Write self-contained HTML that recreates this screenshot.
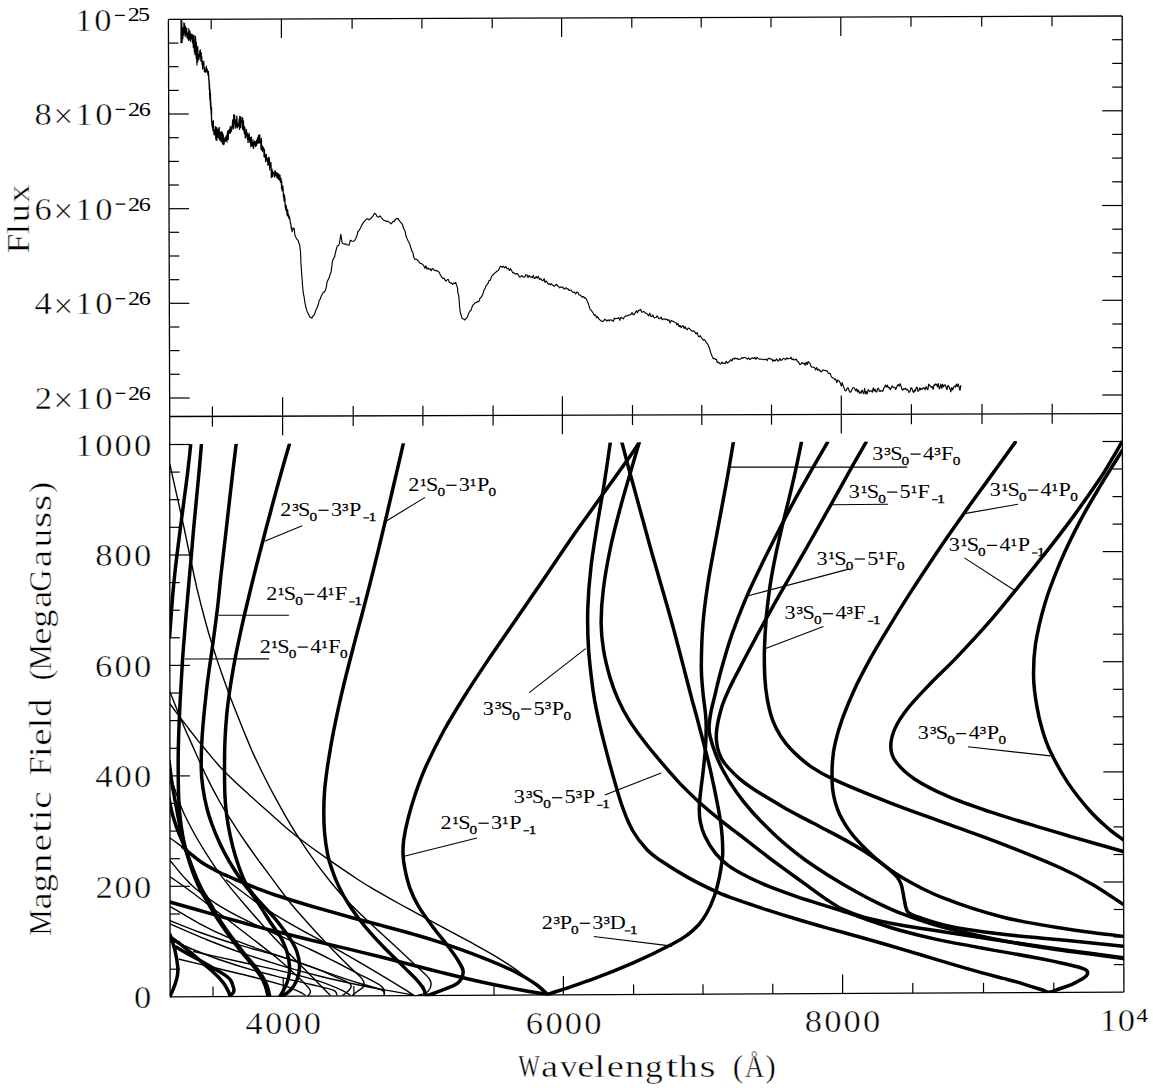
<!DOCTYPE html>
<html><head><meta charset="utf-8"><style>
html,body{margin:0;padding:0;background:#fff;}
svg{display:block;}
text{font-family:"Liberation Serif",serif;fill:#000;} .b{stroke:#fff;stroke-width:0.45px;} .s{stroke:#000;stroke-width:0.3px;}
</style></head><body>
<svg width="1153" height="1091" viewBox="0 0 1153 1091">
<rect width="1153" height="1091" fill="#fff"/>
<line x1="168.4" y1="19.4" x2="1122.2" y2="16.0" stroke="#000" stroke-width="1.3"/>
<line x1="168.4" y1="19.4" x2="169.7" y2="416.5" stroke="#000" stroke-width="1.3"/>
<line x1="1122.2" y1="16.0" x2="1122.3" y2="413.6" stroke="#000" stroke-width="1.3"/>
<line x1="169.7" y1="416.5" x2="1122.3" y2="413.6" stroke="#000" stroke-width="1.3"/>
<line x1="169.7" y1="416.5" x2="170.1" y2="996.8" stroke="#000" stroke-width="1.3"/>
<line x1="170.1" y1="996.8" x2="1123.9" y2="992.1" stroke="#000" stroke-width="1.3"/>
<line x1="1122.3" y1="413.6" x2="1123.9" y2="992.1" stroke="#000" stroke-width="1.3"/>
<line x1="211.2" y1="19.2" x2="211.2" y2="29.2" stroke="#000" stroke-width="1.2"/>
<line x1="212.4" y1="406.4" x2="212.4" y2="426.4" stroke="#000" stroke-width="1.2"/>
<line x1="213.0" y1="996.6" x2="213.0" y2="986.6" stroke="#000" stroke-width="1.2"/>
<line x1="281.4" y1="19.0" x2="281.4" y2="38.0" stroke="#000" stroke-width="1.2"/>
<line x1="282.6" y1="397.2" x2="282.6" y2="435.2" stroke="#000" stroke-width="1.2"/>
<line x1="283.2" y1="996.2" x2="283.2" y2="977.2" stroke="#000" stroke-width="1.2"/>
<line x1="352.1" y1="18.7" x2="352.1" y2="28.7" stroke="#000" stroke-width="1.2"/>
<line x1="353.2" y1="405.9" x2="353.2" y2="425.9" stroke="#000" stroke-width="1.2"/>
<line x1="353.9" y1="995.9" x2="353.9" y2="985.9" stroke="#000" stroke-width="1.2"/>
<line x1="421.9" y1="18.5" x2="421.9" y2="28.5" stroke="#000" stroke-width="1.2"/>
<line x1="422.9" y1="405.7" x2="422.9" y2="425.7" stroke="#000" stroke-width="1.2"/>
<line x1="423.7" y1="995.6" x2="423.7" y2="985.6" stroke="#000" stroke-width="1.2"/>
<line x1="492.2" y1="18.2" x2="492.2" y2="28.2" stroke="#000" stroke-width="1.2"/>
<line x1="493.1" y1="405.5" x2="493.1" y2="425.5" stroke="#000" stroke-width="1.2"/>
<line x1="494.0" y1="995.2" x2="494.0" y2="985.2" stroke="#000" stroke-width="1.2"/>
<line x1="561.6" y1="18.0" x2="561.6" y2="37.0" stroke="#000" stroke-width="1.2"/>
<line x1="562.4" y1="396.3" x2="562.4" y2="434.3" stroke="#000" stroke-width="1.2"/>
<line x1="563.4" y1="994.9" x2="563.4" y2="975.9" stroke="#000" stroke-width="1.2"/>
<line x1="631.8" y1="17.7" x2="631.8" y2="27.7" stroke="#000" stroke-width="1.2"/>
<line x1="632.5" y1="405.1" x2="632.5" y2="425.1" stroke="#000" stroke-width="1.2"/>
<line x1="633.6" y1="994.5" x2="633.6" y2="984.5" stroke="#000" stroke-width="1.2"/>
<line x1="701.2" y1="17.5" x2="701.2" y2="27.5" stroke="#000" stroke-width="1.2"/>
<line x1="701.8" y1="404.9" x2="701.8" y2="424.9" stroke="#000" stroke-width="1.2"/>
<line x1="703.0" y1="994.2" x2="703.0" y2="984.2" stroke="#000" stroke-width="1.2"/>
<line x1="771.0" y1="17.3" x2="771.0" y2="27.3" stroke="#000" stroke-width="1.2"/>
<line x1="771.5" y1="404.7" x2="771.5" y2="424.7" stroke="#000" stroke-width="1.2"/>
<line x1="772.8" y1="993.8" x2="772.8" y2="983.8" stroke="#000" stroke-width="1.2"/>
<line x1="840.8" y1="17.0" x2="840.8" y2="36.0" stroke="#000" stroke-width="1.2"/>
<line x1="841.3" y1="395.5" x2="841.3" y2="433.5" stroke="#000" stroke-width="1.2"/>
<line x1="842.6" y1="993.5" x2="842.6" y2="974.5" stroke="#000" stroke-width="1.2"/>
<line x1="911.0" y1="16.8" x2="911.0" y2="26.8" stroke="#000" stroke-width="1.2"/>
<line x1="911.4" y1="404.2" x2="911.4" y2="424.2" stroke="#000" stroke-width="1.2"/>
<line x1="912.8" y1="993.1" x2="912.8" y2="983.1" stroke="#000" stroke-width="1.2"/>
<line x1="981.7" y1="16.5" x2="981.7" y2="26.5" stroke="#000" stroke-width="1.2"/>
<line x1="982.0" y1="404.0" x2="982.0" y2="424.0" stroke="#000" stroke-width="1.2"/>
<line x1="983.5" y1="992.8" x2="983.5" y2="982.8" stroke="#000" stroke-width="1.2"/>
<line x1="1052.0" y1="16.3" x2="1052.0" y2="26.3" stroke="#000" stroke-width="1.2"/>
<line x1="1052.2" y1="403.8" x2="1052.2" y2="423.8" stroke="#000" stroke-width="1.2"/>
<line x1="1053.8" y1="992.4" x2="1053.8" y2="982.4" stroke="#000" stroke-width="1.2"/>
<line x1="168.5" y1="43.1" x2="178.5" y2="43.1" stroke="#000" stroke-width="1.2"/>
<line x1="1112.2" y1="39.7" x2="1122.2" y2="39.7" stroke="#000" stroke-width="1.2"/>
<line x1="168.6" y1="66.7" x2="178.6" y2="66.7" stroke="#000" stroke-width="1.2"/>
<line x1="1112.2" y1="63.4" x2="1122.2" y2="63.4" stroke="#000" stroke-width="1.2"/>
<line x1="168.6" y1="90.4" x2="178.6" y2="90.4" stroke="#000" stroke-width="1.2"/>
<line x1="1112.2" y1="87.1" x2="1122.2" y2="87.1" stroke="#000" stroke-width="1.2"/>
<line x1="168.7" y1="114.0" x2="188.7" y2="114.0" stroke="#000" stroke-width="1.2"/>
<line x1="1102.2" y1="110.8" x2="1122.2" y2="110.8" stroke="#000" stroke-width="1.2"/>
<line x1="168.8" y1="137.7" x2="178.8" y2="137.7" stroke="#000" stroke-width="1.2"/>
<line x1="1112.2" y1="134.4" x2="1122.2" y2="134.4" stroke="#000" stroke-width="1.2"/>
<line x1="168.9" y1="161.4" x2="178.9" y2="161.4" stroke="#000" stroke-width="1.2"/>
<line x1="1112.2" y1="158.1" x2="1122.2" y2="158.1" stroke="#000" stroke-width="1.2"/>
<line x1="168.9" y1="185.0" x2="178.9" y2="185.0" stroke="#000" stroke-width="1.2"/>
<line x1="1112.2" y1="181.8" x2="1122.2" y2="181.8" stroke="#000" stroke-width="1.2"/>
<line x1="169.0" y1="208.7" x2="189.0" y2="208.7" stroke="#000" stroke-width="1.2"/>
<line x1="1102.2" y1="205.5" x2="1122.2" y2="205.5" stroke="#000" stroke-width="1.2"/>
<line x1="169.1" y1="232.3" x2="179.1" y2="232.3" stroke="#000" stroke-width="1.2"/>
<line x1="1112.3" y1="229.2" x2="1122.3" y2="229.2" stroke="#000" stroke-width="1.2"/>
<line x1="169.2" y1="256.0" x2="179.2" y2="256.0" stroke="#000" stroke-width="1.2"/>
<line x1="1112.3" y1="252.9" x2="1122.3" y2="252.9" stroke="#000" stroke-width="1.2"/>
<line x1="169.3" y1="279.7" x2="179.3" y2="279.7" stroke="#000" stroke-width="1.2"/>
<line x1="1112.3" y1="276.6" x2="1122.3" y2="276.6" stroke="#000" stroke-width="1.2"/>
<line x1="169.3" y1="303.3" x2="189.3" y2="303.3" stroke="#000" stroke-width="1.2"/>
<line x1="1102.3" y1="300.3" x2="1122.3" y2="300.3" stroke="#000" stroke-width="1.2"/>
<line x1="169.4" y1="327.0" x2="179.4" y2="327.0" stroke="#000" stroke-width="1.2"/>
<line x1="1112.3" y1="324.0" x2="1122.3" y2="324.0" stroke="#000" stroke-width="1.2"/>
<line x1="169.5" y1="350.6" x2="179.5" y2="350.6" stroke="#000" stroke-width="1.2"/>
<line x1="1112.3" y1="347.7" x2="1122.3" y2="347.7" stroke="#000" stroke-width="1.2"/>
<line x1="169.6" y1="374.3" x2="179.6" y2="374.3" stroke="#000" stroke-width="1.2"/>
<line x1="1112.3" y1="371.4" x2="1122.3" y2="371.4" stroke="#000" stroke-width="1.2"/>
<line x1="169.6" y1="398.0" x2="189.6" y2="398.0" stroke="#000" stroke-width="1.2"/>
<line x1="1102.3" y1="395.0" x2="1122.3" y2="395.0" stroke="#000" stroke-width="1.2"/>
<line x1="170.1" y1="969.2" x2="180.1" y2="969.2" stroke="#000" stroke-width="1.2"/>
<line x1="1113.8" y1="964.6" x2="1123.8" y2="964.6" stroke="#000" stroke-width="1.2"/>
<line x1="170.1" y1="941.6" x2="180.1" y2="941.6" stroke="#000" stroke-width="1.2"/>
<line x1="1113.7" y1="937.0" x2="1123.7" y2="937.0" stroke="#000" stroke-width="1.2"/>
<line x1="170.0" y1="914.0" x2="180.0" y2="914.0" stroke="#000" stroke-width="1.2"/>
<line x1="1113.7" y1="909.5" x2="1123.7" y2="909.5" stroke="#000" stroke-width="1.2"/>
<line x1="170.0" y1="886.3" x2="190.0" y2="886.3" stroke="#000" stroke-width="1.2"/>
<line x1="1103.6" y1="882.0" x2="1123.6" y2="882.0" stroke="#000" stroke-width="1.2"/>
<line x1="170.0" y1="858.7" x2="180.0" y2="858.7" stroke="#000" stroke-width="1.2"/>
<line x1="1113.5" y1="854.5" x2="1123.5" y2="854.5" stroke="#000" stroke-width="1.2"/>
<line x1="170.0" y1="831.1" x2="180.0" y2="831.1" stroke="#000" stroke-width="1.2"/>
<line x1="1113.4" y1="826.9" x2="1123.4" y2="826.9" stroke="#000" stroke-width="1.2"/>
<line x1="170.0" y1="803.5" x2="180.0" y2="803.5" stroke="#000" stroke-width="1.2"/>
<line x1="1113.4" y1="799.4" x2="1123.4" y2="799.4" stroke="#000" stroke-width="1.2"/>
<line x1="169.9" y1="775.9" x2="189.9" y2="775.9" stroke="#000" stroke-width="1.2"/>
<line x1="1103.3" y1="771.9" x2="1123.3" y2="771.9" stroke="#000" stroke-width="1.2"/>
<line x1="169.9" y1="748.3" x2="179.9" y2="748.3" stroke="#000" stroke-width="1.2"/>
<line x1="1113.2" y1="744.3" x2="1123.2" y2="744.3" stroke="#000" stroke-width="1.2"/>
<line x1="169.9" y1="720.6" x2="179.9" y2="720.6" stroke="#000" stroke-width="1.2"/>
<line x1="1113.1" y1="716.8" x2="1123.1" y2="716.8" stroke="#000" stroke-width="1.2"/>
<line x1="169.9" y1="693.0" x2="179.9" y2="693.0" stroke="#000" stroke-width="1.2"/>
<line x1="1113.1" y1="689.3" x2="1123.1" y2="689.3" stroke="#000" stroke-width="1.2"/>
<line x1="169.9" y1="665.4" x2="189.9" y2="665.4" stroke="#000" stroke-width="1.2"/>
<line x1="1103.0" y1="661.7" x2="1123.0" y2="661.7" stroke="#000" stroke-width="1.2"/>
<line x1="169.9" y1="637.8" x2="179.9" y2="637.8" stroke="#000" stroke-width="1.2"/>
<line x1="1112.9" y1="634.2" x2="1122.9" y2="634.2" stroke="#000" stroke-width="1.2"/>
<line x1="169.8" y1="610.2" x2="179.8" y2="610.2" stroke="#000" stroke-width="1.2"/>
<line x1="1112.8" y1="606.7" x2="1122.8" y2="606.7" stroke="#000" stroke-width="1.2"/>
<line x1="169.8" y1="582.6" x2="179.8" y2="582.6" stroke="#000" stroke-width="1.2"/>
<line x1="1112.8" y1="579.1" x2="1122.8" y2="579.1" stroke="#000" stroke-width="1.2"/>
<line x1="169.8" y1="555.0" x2="189.8" y2="555.0" stroke="#000" stroke-width="1.2"/>
<line x1="1102.7" y1="551.6" x2="1122.7" y2="551.6" stroke="#000" stroke-width="1.2"/>
<line x1="169.8" y1="527.3" x2="179.8" y2="527.3" stroke="#000" stroke-width="1.2"/>
<line x1="1112.6" y1="524.1" x2="1122.6" y2="524.1" stroke="#000" stroke-width="1.2"/>
<line x1="169.8" y1="499.7" x2="179.8" y2="499.7" stroke="#000" stroke-width="1.2"/>
<line x1="1112.5" y1="496.6" x2="1122.5" y2="496.6" stroke="#000" stroke-width="1.2"/>
<line x1="169.7" y1="472.1" x2="179.7" y2="472.1" stroke="#000" stroke-width="1.2"/>
<line x1="1112.5" y1="469.0" x2="1122.5" y2="469.0" stroke="#000" stroke-width="1.2"/>
<line x1="169.7" y1="444.5" x2="189.7" y2="444.5" stroke="#000" stroke-width="1.2"/>
<line x1="1102.4" y1="441.5" x2="1122.4" y2="441.5" stroke="#000" stroke-width="1.2"/>
<defs><clipPath id="cp"><polygon points="169.9,444.2 1122.3,440.5 1123.9,992.6 170.1,997.4"/></clipPath></defs>
<g fill="none" stroke="#000" stroke-linejoin="round" stroke-linecap="round" clip-path="url(#cp)">
<path d="M170.0,838.0 C171.1,838.8 174.3,841.1 176.5,842.6 C178.6,844.2 181.8,846.4 182.9,847.2" stroke-width="1.4"/>
<path d="M169.8,464.0 C170.3,466.1 171.5,471.6 172.6,476.6 C173.7,481.7 175.3,488.7 176.6,494.3 C177.9,500.0 179.0,504.8 180.2,510.4 C181.5,516.0 182.5,520.7 184.1,528.0 C185.6,535.3 188.3,547.9 189.6,554.5 C191.0,561.0 191.4,562.7 192.4,567.5 C193.4,572.4 195.0,579.9 195.9,583.7 C196.7,587.4 196.3,585.8 197.3,590.0 C198.4,594.2 200.2,602.0 202.1,609.0 C203.9,616.0 206.6,625.8 208.4,632.2 C210.3,638.6 211.6,642.7 213.0,647.3 C214.5,651.9 215.6,655.3 217.1,659.9 C218.6,664.5 220.5,669.9 222.3,675.1 C224.1,680.2 226.5,686.8 227.9,690.7 C229.3,694.6 229.5,695.1 230.8,698.6 C232.2,702.0 233.6,705.9 235.9,711.5 C238.1,717.1 241.6,725.8 244.2,732.2 C246.8,738.6 249.9,745.9 251.6,750.0 C253.3,754.0 252.6,752.4 254.5,756.4 C256.4,760.4 259.9,767.7 263.1,774.2 C266.3,780.6 269.8,787.5 273.8,794.9 C277.8,802.3 282.7,811.3 287.1,818.8 C291.5,826.2 295.5,832.8 300.1,839.8 C304.7,846.9 309.9,854.5 314.7,861.1 C319.5,867.8 324.7,874.4 328.9,879.7 C333.1,885.0 336.2,888.7 340.0,893.0 C343.8,897.2 346.1,899.9 351.5,905.3 C356.9,910.7 365.1,918.5 372.6,925.4 C380.0,932.3 389.0,940.2 396.1,946.9 C403.2,953.5 409.6,959.6 415.3,965.1 C421.0,970.7 428.1,976.0 430.2,980.4 C432.3,984.8 430.2,988.9 428.0,991.4 C425.8,993.9 418.8,994.9 417.0,995.6" stroke-width="1.4"/>
<path d="M170.0,692.0 C170.7,693.8 172.8,699.0 174.4,703.0 C176.0,707.0 177.9,711.8 179.6,716.0 C181.3,720.1 182.9,724.0 184.6,728.0 C186.3,731.9 188.0,735.8 189.7,739.4 C191.3,743.1 192.8,746.5 194.4,750.0 C196.0,753.6 197.4,756.7 199.2,760.7 C201.0,764.7 203.2,769.6 205.4,774.2 C207.6,778.7 209.7,783.1 212.2,787.9 C214.7,792.7 218.2,799.0 220.4,803.0 C222.6,806.9 222.8,807.1 225.5,811.5 C228.3,815.8 233.1,823.4 236.8,829.1 C240.5,834.8 244.2,840.2 247.9,845.5 C251.6,850.8 255.3,855.9 258.8,860.8 C262.4,865.6 266.2,870.7 269.3,874.9 C272.4,879.0 274.3,881.7 277.4,885.9 C280.5,890.0 284.2,895.0 287.9,899.8 C291.7,904.5 293.9,907.5 300.0,914.3 C306.0,921.2 316.2,932.4 324.3,940.9 C332.4,949.5 341.9,959.1 348.3,965.5 C354.6,971.9 359.8,975.8 362.4,979.3 C365.0,982.8 364.4,984.6 363.6,986.6 C362.8,988.6 359.4,989.9 357.6,991.3 C355.7,992.8 353.5,994.5 352.7,995.1" stroke-width="1.4"/>
<path d="M170.0,704.0 C171.5,706.0 176.0,712.0 179.2,716.2 C182.3,720.4 185.7,724.8 188.9,729.0 C192.1,733.1 195.5,737.4 198.4,741.1 C201.4,744.7 203.5,747.3 206.4,750.8 C209.3,754.3 212.7,758.5 215.8,762.0 C218.9,765.6 221.5,768.5 225.0,772.1 C228.5,775.7 232.7,779.7 236.9,783.6 C241.0,787.5 244.7,790.7 249.9,795.4 C255.1,800.1 262.0,806.3 268.0,811.6 C273.9,817.0 280.2,822.7 285.6,827.3 C291.1,831.8 293.4,833.9 300.4,839.2 C307.4,844.5 318.0,852.2 327.6,858.9 C337.2,865.6 350.4,874.5 357.9,879.5 C365.4,884.4 365.6,884.5 372.6,888.6 C379.6,892.6 390.5,898.8 399.7,904.0 C409.0,909.1 416.3,913.1 427.9,919.3 C439.4,925.6 456.9,934.8 469.0,941.4 C481.1,948.1 491.5,953.7 500.4,959.3 C509.4,964.8 515.3,968.9 522.8,974.7 C530.4,980.5 542.1,990.8 546.0,994.0" stroke-width="1.4"/>
<path d="M169.6,772.0 C170.5,775.0 173.0,783.9 175.0,789.7 C176.9,795.5 179.1,801.8 181.2,806.9 C183.3,812.1 185.1,816.0 187.5,820.8 C189.9,825.7 192.6,830.7 195.6,836.0 C198.6,841.2 202.0,846.9 205.5,852.3 C208.9,857.8 213.5,864.7 216.3,868.9 C219.2,873.1 220.0,874.2 222.6,877.6 C225.2,881.0 228.1,884.8 231.8,889.4 C235.5,893.9 239.9,899.1 245.0,905.0 C250.0,910.9 256.4,918.2 262.3,924.7 C268.2,931.3 274.2,937.8 280.6,944.5 C286.9,951.1 294.0,958.5 300.2,964.8 C306.4,971.1 312.7,977.3 317.6,982.4 C322.6,987.4 327.9,992.9 330.0,995.0" stroke-width="1.4"/>
<path d="M170.0,906.4 C174.9,909.3 189.9,918.5 199.5,923.6 C209.0,928.8 217.3,932.9 227.5,937.2 C237.7,941.6 249.3,945.7 260.4,949.7 C271.5,953.6 285.7,957.9 294.2,960.7 C302.6,963.6 304.4,964.0 311.1,966.7 C317.9,969.3 328.4,973.7 334.9,976.6 C341.4,979.5 347.9,981.8 350.3,984.1 C352.7,986.4 350.3,988.4 349.1,990.2 C347.9,992.0 344.0,994.3 343.0,995.1" stroke-width="1.4"/>
<path d="M170.0,920.7 C174.8,922.6 189.2,928.5 198.7,932.0 C208.2,935.4 218.3,938.8 226.9,941.5 C235.6,944.2 242.8,946.0 250.8,948.3 C258.8,950.5 267.5,952.8 274.7,954.9 C282.0,957.0 287.9,958.9 294.0,961.0 C300.2,963.1 304.7,964.8 311.7,967.2 C318.7,969.7 327.7,972.9 335.8,975.6 C343.9,978.4 352.5,981.1 360.2,983.5 C367.8,985.9 377.8,988.1 381.8,990.0 C385.8,991.9 383.9,994.2 384.3,995.1" stroke-width="1.4"/>
<path d="M170.0,924.0 C176.2,926.7 195.4,935.1 207.5,940.0 C219.6,944.8 229.6,948.7 242.5,953.2 C255.5,957.7 272.4,963.0 285.3,966.8 C298.3,970.6 307.7,973.1 320.2,976.2 C332.7,979.3 349.5,983.0 360.1,985.3 C370.8,987.6 376.1,988.5 384.2,989.9 C392.2,991.4 403.5,993.2 408.4,994.1 C413.2,994.9 412.6,994.9 413.4,995.1" stroke-width="1.4"/>
<path d="M174.9,941.6 C177.9,942.9 185.3,946.4 192.9,949.5 C200.5,952.5 210.4,956.5 220.5,960.0 C230.6,963.5 242.8,967.3 253.5,970.4 C264.3,973.4 275.5,976.0 285.1,978.4 C294.7,980.7 303.0,982.5 311.0,984.5 C319.0,986.5 329.0,988.4 333.3,990.2 C337.6,992.0 336.3,994.3 336.9,995.1" stroke-width="1.4"/>
<path d="M193.6,951.5 C198.0,952.5 210.0,955.2 219.9,957.4 C229.8,959.6 242.4,962.4 253.2,964.8 C264.0,967.2 273.9,969.2 284.9,971.9 C295.8,974.7 309.3,978.1 319.0,981.2 C328.7,984.4 337.9,988.5 343.1,990.8 C348.2,993.1 348.8,994.3 350.0,995.0" stroke-width="1.4"/>
<path d="M179.3,959.2 C185.2,960.6 202.3,964.7 214.6,967.7 C226.9,970.6 241.3,974.0 253.0,977.0 C264.6,980.0 276.6,983.3 284.2,985.7 C291.9,988.1 295.6,990.0 299.0,991.6 C302.5,993.1 304.0,994.4 305.0,995.0" stroke-width="1.4"/>
<path d="M170.1,860.5 C172.4,863.2 179.5,872.2 183.7,876.9 C188.0,881.6 190.3,884.4 195.7,888.8 C201.0,893.3 208.4,898.8 215.9,903.6 C223.3,908.4 231.1,912.7 240.3,917.4 C249.5,922.2 262.3,928.0 271.1,932.0 C280.0,936.1 286.7,938.7 293.4,941.7 C300.1,944.7 304.4,946.6 311.5,950.0 C318.6,953.3 327.8,958.0 335.8,962.0 C343.8,966.1 351.7,970.3 359.4,974.3 C367.1,978.4 377.6,983.1 381.8,986.6 C386.0,990.1 383.9,993.7 384.3,995.1" stroke-width="1.4"/>
<path d="M170.1,876.7 C172.5,878.4 179.7,883.4 184.8,887.0 C189.8,890.7 193.4,893.3 200.5,898.7 C207.5,904.1 218.3,912.5 227.2,919.3 C236.0,926.1 244.8,932.8 253.4,939.5 C262.0,946.2 271.4,953.3 278.8,959.5 C286.2,965.8 292.7,971.8 297.9,976.9 C303.1,982.0 308.3,986.8 310.0,990.0 C311.7,993.2 308.3,995.0 308.0,996.0" stroke-width="1.4"/>
<path d="M226.6,880.0 C231.2,883.4 245.9,894.7 254.0,900.6 C262.2,906.4 268.0,910.3 275.7,915.1 C283.5,919.9 291.3,924.3 300.3,929.4 C309.3,934.4 320.0,940.0 329.8,945.4 C339.5,950.8 349.6,956.5 358.8,961.8 C368.1,967.2 377.2,972.7 385.3,977.6 C393.5,982.5 403.1,988.5 407.8,991.4 C412.5,994.3 412.5,994.5 413.4,995.1" stroke-width="1.4"/>
<path d="M190.7,444.4 C190.3,448.5 189.1,460.2 188.0,469.2 C187.0,478.3 185.5,488.9 184.2,498.7 C183.0,508.5 181.5,519.4 180.4,528.0 C179.3,536.5 178.5,542.7 177.6,550.0 C176.7,557.3 175.7,565.0 175.0,572.0 C174.2,579.0 173.6,585.4 173.0,592.0 C172.4,598.7 172.0,604.5 171.4,612.0 C170.8,619.5 169.9,632.8 169.6,637.0" stroke-width="3.5"/>
<path d="M201.4,444.4 C201.1,448.5 200.1,460.2 199.3,469.3 C198.5,478.3 197.4,488.9 196.5,498.7 C195.6,508.5 194.6,518.2 193.7,528.0 C192.8,537.8 192.0,547.8 191.2,557.3 C190.3,566.8 189.6,574.7 188.7,585.0 C187.8,595.3 186.7,607.5 185.7,619.3 C184.7,631.2 183.7,643.7 182.8,656.0 C182.0,668.3 181.2,681.3 180.6,693.0 C179.9,704.7 179.4,716.5 179.0,726.0 C178.6,735.5 178.5,743.1 178.3,750.0 C178.2,756.9 178.1,760.0 178.2,767.5 C178.2,775.0 178.3,787.0 178.6,795.0 C178.9,803.0 179.2,808.7 179.9,815.5 C180.6,822.4 181.8,830.4 182.8,836.1 C183.8,841.8 184.7,845.3 185.9,849.9 C187.1,854.5 188.4,859.0 189.9,863.6 C191.4,868.2 193.1,873.1 194.8,877.4 C196.5,881.7 198.5,886.3 200.2,889.6 C201.8,892.9 203.3,894.7 204.7,897.2 C206.2,899.6 207.2,901.3 208.9,904.3 C210.6,907.2 212.7,911.3 215.0,914.9 C217.2,918.6 219.6,922.2 222.3,926.1 C225.0,930.0 228.1,934.3 231.0,938.3 C234.0,942.3 237.3,946.7 240.1,950.2 C242.8,953.7 245.0,956.2 247.5,959.2 C250.0,962.2 252.7,965.2 255.0,968.2 C257.2,971.2 259.5,974.2 261.2,977.1 C263.0,980.1 264.2,982.8 265.3,985.9 C266.4,988.9 267.4,993.9 267.8,995.5" stroke-width="3.5"/>
<path d="M169.1,761.3 C169.5,764.2 170.6,773.3 171.3,778.5 C172.1,783.6 172.7,787.8 173.5,792.1 C174.2,796.5 175.1,800.5 175.8,804.6 C176.6,808.8 177.4,813.1 178.1,817.0 C178.9,820.9 179.4,823.9 180.2,828.0 C181.1,832.1 182.3,837.6 183.4,841.6 C184.4,845.6 185.3,848.1 186.6,852.0 C187.9,855.9 189.5,860.5 191.2,864.9 C192.9,869.3 194.9,874.3 196.7,878.4 C198.5,882.6 200.4,886.5 202.1,889.7 C203.8,892.9 205.3,895.1 206.8,897.6 C208.3,900.1 209.2,901.6 210.9,904.6 C212.6,907.5 214.7,911.6 216.9,915.3 C219.1,918.9 221.5,922.6 224.1,926.4 C226.7,930.3 229.7,934.4 232.6,938.4 C235.5,942.4 238.9,946.9 241.7,950.4 C244.4,953.9 246.6,956.4 249.1,959.4 C251.6,962.4 254.2,965.2 256.5,968.2 C258.8,971.2 261.2,974.4 263.0,977.3 C264.7,980.3 266.0,982.9 267.1,985.9 C268.2,988.9 269.2,993.7 269.6,995.3" stroke-width="3.5"/>
<path d="M169.1,798.4 C169.5,800.6 170.7,807.4 171.7,811.4 C172.7,815.4 173.7,818.7 174.9,822.4 C176.1,826.1 177.5,829.7 178.9,833.4 C180.4,837.1 182.3,841.4 183.6,844.5 C184.9,847.6 185.4,848.9 186.6,852.1 C187.8,855.4 189.3,859.8 190.8,863.9 C192.3,868.0 194.1,872.9 195.7,876.9 C197.2,881.0 199.4,886.2 200.2,888.0" stroke-width="3.5"/>
<path d="M236.1,444.4 C235.6,448.5 234.2,460.2 233.1,469.3 C232.1,478.3 230.8,488.9 229.7,498.7 C228.6,508.5 227.5,518.2 226.4,528.0 C225.3,537.7 224.0,548.6 223.0,557.3 C222.0,566.0 221.2,572.9 220.4,580.0 C219.7,587.1 219.0,594.7 218.4,600.0 C217.8,605.3 217.9,605.1 217.0,612.0 C216.2,618.9 214.5,631.5 213.2,641.3 C211.9,651.1 210.2,662.1 209.0,670.7 C207.9,679.3 207.3,682.0 206.2,693.1 C205.0,704.1 202.9,724.7 202.1,737.1 C201.3,749.5 201.1,759.0 201.2,767.5 C201.3,776.0 201.9,781.2 202.9,788.0 C203.8,794.8 205.4,802.3 207.0,808.5 C208.5,814.7 210.2,819.5 212.2,825.0 C214.2,830.5 216.7,836.5 219.0,841.5 C221.2,846.6 223.4,850.7 225.9,855.3 C228.3,859.9 231.2,864.7 233.9,869.0 C236.7,873.4 240.0,878.2 242.2,881.4 C244.5,884.7 245.8,886.2 247.6,888.5 C249.3,890.8 250.6,892.2 252.7,895.2 C254.9,898.2 257.6,902.2 260.4,906.6 C263.3,911.0 267.1,917.3 269.9,921.5 C272.7,925.8 275.2,929.1 277.1,931.9 C279.0,934.7 279.7,935.0 281.4,938.5 C283.1,942.0 285.9,948.2 287.2,952.9 C288.6,957.7 289.4,962.8 289.6,967.1 C289.7,971.5 289.2,975.3 288.3,978.9 C287.4,982.5 285.7,985.9 284.3,988.8 C282.9,991.7 280.6,995.0 279.9,996.3" stroke-width="3.5"/>
<path d="M289.3,444.4 C288.3,447.8 285.5,457.4 283.4,465.0 C281.3,472.6 278.7,481.7 276.4,490.0 C274.2,498.3 271.9,506.7 269.7,515.0 C267.4,523.4 265.2,531.7 263.1,540.0 C260.9,548.3 258.8,556.7 256.6,565.0 C254.5,573.3 252.4,581.7 250.4,590.0 C248.4,598.4 246.4,606.7 244.4,615.0 C242.5,623.4 240.6,631.7 238.9,640.0 C237.1,648.4 235.4,656.7 233.9,665.1 C232.4,673.4 231.0,681.7 229.8,690.1 C228.6,698.4 227.5,706.7 226.7,715.0 C225.9,723.4 225.4,731.3 225.0,740.0 C224.6,748.8 224.5,758.3 224.5,767.5 C224.5,776.7 224.6,787.0 224.9,795.0 C225.3,803.0 225.8,808.7 226.7,815.5 C227.6,822.4 228.8,829.2 230.3,836.1 C231.7,842.9 233.5,849.8 235.6,856.7 C237.7,863.5 240.6,871.8 242.8,877.1 C245.0,882.4 246.6,885.0 248.8,888.5 C251.0,891.9 253.2,894.5 256.1,897.9 C259.0,901.3 263.1,905.5 266.2,908.8 C269.2,912.2 271.5,914.5 274.4,917.9 C277.3,921.3 280.7,925.7 283.5,929.5 C286.4,933.3 289.2,937.0 291.4,940.8 C293.6,944.5 295.6,947.8 296.9,951.8 C298.3,955.8 299.3,960.7 299.5,964.8 C299.7,968.9 299.1,972.9 298.1,976.4 C297.1,980.0 295.4,983.4 293.6,986.1 C291.9,988.8 289.7,991.0 287.6,992.7 C285.5,994.4 282.2,995.7 281.1,996.3" stroke-width="3.5"/>
<path d="M403.3,443.7 C401.7,450.6 396.9,471.3 393.7,485.0 C390.5,498.7 387.3,512.5 384.1,526.2 C380.8,539.9 377.5,553.7 374.1,567.4 C370.7,581.2 367.1,594.9 363.5,608.7 C359.9,622.5 356.1,636.2 352.6,650.0 C349.0,663.8 345.3,678.0 342.2,691.4 C339.0,704.7 335.8,720.2 333.8,730.1 C331.8,739.9 331.2,743.7 330.1,750.6 C328.9,757.5 327.8,764.4 326.8,771.3 C325.9,778.2 325.0,785.1 324.5,792.0 C324.0,798.8 323.8,805.6 323.8,812.5 C323.8,819.4 324.0,826.3 324.6,833.1 C325.2,840.0 326.4,847.8 327.5,853.6 C328.6,859.4 329.4,862.2 331.4,867.9 C333.3,873.5 336.4,881.7 339.3,887.6 C342.1,893.6 344.8,898.2 348.4,903.7 C351.9,909.2 356.4,915.4 360.4,920.7 C364.4,925.9 368.5,930.7 372.5,935.2 C376.5,939.7 380.3,943.6 384.3,947.7 C388.3,951.8 392.5,955.9 396.5,959.7 C400.4,963.6 404.4,967.5 407.9,971.1 C411.5,974.6 415.2,978.2 417.8,981.2 C420.4,984.1 422.0,986.3 423.4,988.7 C424.8,991.1 425.7,994.4 426.1,995.6" stroke-width="3.5"/>
<path d="M639.2,442.4 C637.3,445.3 634.5,450.0 627.6,459.8 C620.7,469.6 607.1,488.3 597.8,501.3 C588.5,514.4 581.7,523.3 571.6,537.9 C561.4,552.6 547.1,574.1 536.9,589.1 C526.6,604.1 518.7,615.6 510.1,628.1 C501.5,640.5 493.2,652.4 485.5,663.9 C477.8,675.4 470.8,686.1 463.8,697.2 C456.9,708.3 450.2,719.1 443.9,730.5 C437.7,741.9 431.1,755.1 426.3,765.6 C421.6,776.1 418.6,784.5 415.5,793.5 C412.4,802.5 409.7,811.8 407.8,819.6 C405.8,827.4 404.5,834.4 403.7,840.1 C403.0,845.8 402.9,849.1 403.0,853.8 C403.2,858.4 403.5,862.2 404.7,867.9 C405.8,873.6 407.6,881.5 409.8,887.8 C412.1,894.0 414.0,898.7 418.0,905.3 C421.9,912.0 428.3,920.8 433.5,927.8 C438.7,934.9 445.0,942.0 449.2,947.7 C453.5,953.4 456.6,957.9 459.0,962.0 C461.3,966.1 463.4,968.7 463.2,972.2 C463.0,975.7 461.4,980.1 457.7,983.2 C454.0,986.3 446.0,988.6 440.9,990.7 C435.9,992.8 429.7,994.8 427.5,995.6" stroke-width="3.5"/>
<path d="M733.5,441.6 C732.2,448.9 729.0,468.8 725.9,485.4 C722.9,502.0 718.4,524.8 715.5,541.0 C712.5,557.3 710.1,568.9 708.0,582.8 C705.9,596.7 704.0,610.6 702.9,624.4 C701.8,638.3 701.4,655.0 701.3,665.9 C701.3,676.8 702.0,682.2 702.7,689.9 C703.3,697.6 704.7,705.9 705.3,712.1 C705.9,718.2 706.2,720.6 706.2,726.7 C706.2,732.8 705.9,741.3 705.4,748.7 C704.9,756.0 704.0,763.3 703.2,770.7 C702.4,778.0 701.2,786.6 700.5,792.7 C699.9,798.8 699.3,802.5 699.3,807.3 C699.2,812.2 699.4,817.0 700.3,821.8 C701.2,826.6 702.3,830.8 704.8,836.0 C707.3,841.3 711.6,848.5 715.5,853.4 C719.4,858.3 722.9,861.4 728.1,865.3 C733.3,869.1 739.9,872.8 746.7,876.3 C753.5,879.9 760.3,882.9 768.8,886.4 C777.4,889.8 788.4,893.7 798.1,897.1 C807.9,900.4 819.2,903.7 827.4,906.3 C835.7,908.9 840.2,910.3 847.5,912.7 C854.9,915.1 862.6,918.1 871.3,921.0 C880.0,923.9 888.9,927.2 899.7,930.3 C910.6,933.3 924.2,936.7 936.4,939.4 C948.6,942.1 963.6,944.6 973.1,946.4 C982.5,948.2 981.5,948.0 993.0,950.1 C1004.6,952.1 1028.7,956.3 1042.4,959.0 C1056.1,961.7 1067.8,964.4 1075.1,966.3 C1082.4,968.1 1084.2,968.6 1086.2,970.1 C1088.2,971.6 1087.8,973.5 1087.0,975.0 C1086.2,976.5 1084.1,977.7 1081.6,979.3 C1079.1,980.8 1075.7,982.7 1072.0,984.3 C1068.2,985.9 1062.8,987.7 1059.0,989.0 C1055.2,990.4 1051.9,992.1 1049.1,992.3 C1046.3,992.5 1047.7,991.7 1042.5,990.0 C1037.2,988.3 1024.1,984.2 1017.5,982.2 C1011.0,980.3 1009.2,980.0 1003.1,978.4 C996.9,976.7 989.2,974.8 980.5,972.4 C971.8,970.0 960.8,966.8 951.0,963.9 C941.2,961.0 931.3,958.0 921.5,955.0 C911.7,952.1 901.8,949.1 892.0,946.2 C882.1,943.3 873.1,940.7 862.4,937.7 C851.6,934.7 838.2,931.1 827.5,928.1 C816.8,925.1 807.8,922.5 798.0,919.5 C788.2,916.6 778.5,913.6 768.6,910.4 C758.8,907.2 747.6,903.5 739.0,900.4 C730.5,897.4 725.8,895.9 717.3,892.1 C708.9,888.3 697.7,882.9 688.2,877.6 C678.6,872.3 667.1,865.0 660.1,860.3 C653.2,855.6 651.1,854.2 646.6,849.3 C642.1,844.4 636.7,837.6 632.9,831.0 C629.0,824.4 626.4,817.8 623.4,809.7 C620.4,801.7 618.1,793.8 614.9,782.4 C611.6,771.0 606.6,752.4 603.7,741.1 C600.8,729.9 599.2,723.2 597.5,714.9 C595.7,706.6 594.6,701.9 593.1,691.1 C591.7,680.3 589.5,663.6 588.6,649.9 C587.7,636.2 587.4,622.5 587.8,608.7 C588.2,595.0 589.3,581.4 590.9,567.6 C592.4,553.9 594.8,540.1 597.0,526.3 C599.2,512.5 601.8,498.9 604.0,484.9 C606.2,470.9 609.3,449.5 610.3,442.4" stroke-width="3.5"/>
<path d="M639.2,442.4 C637.8,447.2 634.0,460.4 630.8,471.2 C627.7,481.9 623.9,494.3 620.5,507.1 C617.1,520.0 613.1,534.7 610.3,548.5 C607.4,562.2 604.8,577.3 603.3,589.6 C601.7,602.0 601.1,612.5 601.1,622.5 C601.2,632.5 602.0,640.6 603.5,649.8 C605.0,658.9 607.5,668.9 609.9,677.2 C612.4,685.5 614.9,692.3 618.2,699.6 C621.4,706.9 624.7,713.3 629.7,721.1 C634.6,728.9 641.4,737.8 648.0,746.3 C654.6,754.7 663.9,765.3 669.3,771.6 C674.7,777.9 675.5,778.9 680.5,784.1 C685.6,789.2 692.9,796.5 699.5,802.5 C706.1,808.4 713.6,814.7 720.1,819.9 C726.6,825.2 731.9,829.0 738.5,834.0 C745.0,839.0 754.1,846.2 759.2,850.1 C764.2,854.0 764.7,854.4 768.7,857.5 C772.7,860.5 777.0,863.6 783.1,868.1 C789.2,872.5 797.9,878.9 805.3,884.2 C812.7,889.6 821.3,896.0 827.6,900.2 C833.9,904.4 837.1,906.6 842.9,909.4 C848.8,912.1 854.7,914.5 862.9,916.9 C871.0,919.2 882.3,921.6 892.1,923.5 C901.9,925.4 911.7,926.9 921.5,928.4 C931.3,930.0 937.4,930.9 951.0,933.0 C964.6,935.0 987.8,938.6 1003.0,940.9 C1018.3,943.2 1027.7,944.7 1042.5,946.8 C1057.4,948.9 1078.5,951.7 1092.0,953.6 C1105.5,955.4 1118.1,957.0 1123.3,957.7" stroke-width="3.5"/>
<path d="M622.0,442.8 C623.1,446.9 625.9,457.8 628.5,467.5 C631.1,477.1 634.2,488.4 637.5,500.5 C640.8,512.6 645.4,529.5 648.3,540.0 C651.2,550.4 652.6,555.6 654.8,563.1 C656.9,570.6 659.0,577.6 661.1,584.9 C663.2,592.2 665.3,599.3 667.4,606.8 C669.5,614.3 671.9,622.9 673.8,629.9 C675.7,637.0 676.7,640.8 678.9,649.1 C681.1,657.5 684.7,671.5 686.9,680.0 C689.1,688.5 690.4,693.4 692.1,700.0 C693.9,706.5 695.4,711.7 697.4,719.4 C699.4,727.0 702.4,738.3 704.3,745.7 C706.3,753.0 707.3,756.8 708.8,763.4 C710.4,770.0 712.1,778.0 713.7,785.3 C715.2,792.6 716.9,801.2 718.1,807.3 C719.2,813.4 719.9,817.2 720.6,822.1 C721.3,827.0 721.8,832.0 722.2,836.6 C722.5,841.3 722.7,846.2 722.7,850.0 C722.7,853.8 722.9,854.5 722.3,859.1 C721.7,863.8 720.5,872.1 719.2,878.2 C717.9,884.3 716.5,889.9 714.5,895.7 C712.4,901.5 709.6,908.1 706.8,913.0 C704.1,918.0 701.4,921.6 698.2,925.3 C694.9,928.9 691.7,931.8 687.3,935.0 C682.9,938.2 681.0,939.6 672.0,944.2 C662.9,948.9 646.5,957.0 633.2,962.9 C619.9,968.7 606.2,974.2 592.1,979.4 C578.0,984.6 555.8,991.7 548.5,994.2" stroke-width="3.5"/>
<path d="M801.4,442.4 C800.4,447.2 797.5,461.7 795.4,471.1 C793.4,480.5 790.9,490.4 789.0,498.7 C787.0,507.0 785.7,511.5 783.5,520.7 C781.4,529.9 778.1,543.3 775.9,553.8 C773.7,564.4 771.9,573.6 770.3,584.1 C768.8,594.6 767.3,606.1 766.3,617.1 C765.4,628.1 764.7,640.0 764.4,650.0 C764.2,660.1 764.4,669.1 764.8,677.4 C765.3,685.8 766.1,692.7 767.4,699.9 C768.7,707.0 770.4,714.1 772.6,720.2 C774.8,726.2 777.4,731.1 780.7,736.2 C784.0,741.3 787.5,745.8 792.4,750.8 C797.3,755.8 803.3,761.3 810.2,766.1 C817.1,770.8 820.4,773.3 833.7,779.4 C847.0,785.6 871.3,795.5 890.1,802.8 C909.0,810.2 927.9,816.7 946.7,823.6 C965.5,830.5 984.4,837.0 1003.2,844.3 C1022.0,851.6 1044.7,860.7 1059.7,867.5 C1074.7,874.2 1082.8,878.7 1093.4,884.9 C1103.9,891.0 1118.1,901.1 1123.0,904.3" stroke-width="3.5"/>
<path d="M827.5,442.4 C824.7,447.2 816.3,461.7 810.9,471.1 C805.5,480.6 800.6,489.0 795.1,499.1 C789.7,509.2 783.7,520.8 778.1,531.7 C772.5,542.7 766.9,553.7 761.6,564.7 C756.3,575.8 750.9,586.6 746.0,598.1 C741.1,609.7 736.3,621.9 732.1,633.8 C728.0,645.7 724.3,658.5 721.3,669.5 C718.2,680.5 715.6,692.7 713.8,699.8 C712.1,706.9 711.7,707.7 710.9,712.2 C710.1,716.7 709.2,722.6 709.1,726.7 C708.9,730.8 709.0,732.1 710.2,736.7 C711.3,741.3 713.5,748.5 715.7,754.3 C718.0,760.1 720.1,765.2 723.6,771.5 C727.0,777.8 731.6,785.3 736.5,792.2 C741.3,799.0 746.4,805.4 752.7,812.5 C759.1,819.5 768.0,828.5 774.4,834.6 C780.8,840.8 786.0,845.0 791.2,849.2 C796.4,853.5 799.5,855.9 805.6,860.2 C811.7,864.5 819.4,869.7 827.7,874.9 C836.0,880.1 847.0,886.6 855.3,891.2 C863.6,895.9 870.0,899.3 877.4,902.9 C884.8,906.5 891.1,909.5 899.7,912.9 C908.3,916.2 919.3,920.1 929.1,923.1 C938.8,926.2 946.0,928.1 958.4,931.0 C970.7,934.0 989.2,938.0 1003.2,940.8 C1017.2,943.5 1027.8,945.2 1042.6,947.4 C1057.4,949.7 1078.5,952.5 1092.0,954.3 C1105.5,956.2 1118.1,957.8 1123.3,958.5" stroke-width="3.5"/>
<path d="M866.0,442.4 C863.8,446.3 858.1,456.1 852.5,465.9 C847.0,475.7 839.7,489.0 832.8,501.4 C825.8,513.7 818.3,527.1 811.0,540.0 C803.7,552.8 795.8,566.5 788.9,578.5 C782.1,590.4 776.4,600.2 770.1,611.7 C763.7,623.2 756.5,636.4 750.7,647.3 C744.8,658.2 738.8,669.9 735.1,677.0 C731.4,684.2 730.7,685.4 728.6,690.1 C726.4,694.8 724.3,699.0 722.4,705.1 C720.5,711.3 718.0,720.9 717.1,726.9 C716.1,732.9 716.1,736.7 716.5,741.2 C716.9,745.7 717.9,750.2 719.3,754.0 C720.8,757.8 721.7,759.9 725.1,764.0 C728.4,768.1 734.7,774.4 739.4,778.6 C744.2,782.8 746.4,784.5 753.7,789.2 C760.9,793.9 774.4,801.9 783.0,806.9 C791.5,811.8 798.9,815.6 805.0,818.9 C811.2,822.2 813.3,823.2 820.0,826.7 C826.8,830.3 838.0,836.0 845.4,840.1 C852.8,844.2 859.3,848.1 864.7,851.5 C870.0,854.9 873.3,857.2 877.6,860.4 C881.9,863.6 887.2,867.7 890.5,870.6 C893.8,873.4 895.6,875.2 897.4,877.5 C899.2,879.9 900.3,882.1 901.3,884.8 C902.2,887.5 902.6,890.9 903.2,893.5 C903.7,896.2 903.7,897.7 904.5,900.8 C905.3,903.9 905.3,909.3 908.2,912.2 C911.1,915.1 916.1,916.2 922.0,918.4 C927.9,920.5 936.4,923.1 943.7,924.9 C951.0,926.7 955.9,927.7 965.8,929.3 C975.7,930.9 990.3,932.9 1003.1,934.3 C1015.9,935.8 1027.7,936.8 1042.5,938.2 C1057.3,939.6 1078.5,941.6 1092.0,943.0 C1105.5,944.3 1118.1,945.7 1123.3,946.2" stroke-width="3.5"/>
<path d="M1015.2,442.4 C1011.1,448.1 999.0,464.7 990.4,476.6 C981.8,488.6 972.5,501.3 963.4,514.2 C954.3,527.0 944.9,540.4 935.8,553.9 C926.7,567.4 916.5,583.0 908.6,595.4 C900.7,607.7 894.9,617.3 888.5,627.9 C882.1,638.4 876.1,648.2 870.3,658.7 C864.6,669.1 858.6,680.4 854.0,690.4 C849.3,700.5 845.5,710.1 842.4,718.7 C839.3,727.3 837.0,735.3 835.4,742.2 C833.7,749.1 833.1,753.5 832.6,760.1 C832.0,766.7 831.9,775.8 832.1,781.8 C832.2,787.7 832.8,791.4 833.7,795.8 C834.5,800.3 835.8,804.6 837.3,808.6 C838.7,812.6 840.3,816.1 842.5,819.9 C844.6,823.8 847.3,827.9 850.0,831.5 C852.7,835.2 855.6,838.5 858.8,841.9 C861.9,845.4 865.4,848.8 869.0,852.2 C872.6,855.6 876.7,859.2 880.5,862.4 C884.4,865.6 888.1,868.4 892.2,871.2 C896.3,874.0 900.2,876.5 905.1,879.3 C910.0,882.1 915.3,885.1 921.7,888.2 C928.2,891.4 935.3,894.8 943.9,898.2 C952.5,901.6 963.4,905.5 973.3,908.7 C983.2,911.9 994.4,915.0 1003.2,917.2 C1012.0,919.5 1016.7,920.3 1026.0,922.1 C1035.3,923.8 1048.0,926.0 1059.0,927.7 C1070.0,929.5 1081.3,931.1 1092.1,932.6 C1102.8,934.0 1118.1,935.7 1123.3,936.3" stroke-width="3.5"/>
<path d="M1122.3,441.2 C1120.7,444.0 1116.3,452.0 1112.5,458.2 C1108.7,464.5 1106.3,469.1 1099.7,479.0 C1093.0,488.9 1081.6,505.2 1072.5,517.6 C1063.4,530.0 1054.2,541.9 1045.1,553.4 C1036.1,564.9 1027.5,575.5 1018.3,586.9 C1009.0,598.3 999.8,609.9 989.5,621.7 C979.3,633.4 966.5,647.1 956.7,657.4 C946.9,667.7 938.6,675.1 930.5,683.5 C922.4,692.0 914.0,700.5 908.1,708.0 C902.2,715.4 898.0,721.7 895.1,728.1 C892.2,734.6 890.7,741.1 890.8,746.7 C890.9,752.3 892.0,756.5 895.9,761.8 C899.8,767.1 905.5,772.9 914.1,778.7 C922.7,784.4 934.9,790.7 947.5,796.2 C960.0,801.7 975.4,806.9 989.5,811.7 C1003.5,816.5 1017.7,820.6 1031.9,824.9 C1046.1,829.3 1059.3,833.1 1074.6,837.6 C1089.8,842.0 1115.2,849.2 1123.3,851.5" stroke-width="3.5"/>
<path d="M1122.3,450.3 C1118.7,456.1 1107.8,473.3 1100.7,485.1 C1093.6,497.0 1086.6,508.5 1079.9,521.4 C1073.1,534.3 1066.0,548.7 1060.2,562.4 C1054.4,576.2 1048.9,590.1 1044.8,603.9 C1040.7,617.6 1037.3,632.6 1035.4,644.8 C1033.6,657.1 1033.4,667.4 1033.6,677.4 C1033.8,687.4 1035.1,696.1 1036.6,704.9 C1038.0,713.6 1039.9,721.9 1042.3,729.7 C1044.6,737.6 1046.2,743.0 1050.5,751.8 C1054.7,760.6 1061.2,772.7 1067.8,782.6 C1074.4,792.5 1083.2,803.3 1090.0,811.0 C1096.9,818.8 1103.5,824.3 1109.0,829.1 C1114.6,833.9 1120.9,838.0 1123.3,839.8" stroke-width="3.5"/>
<path d="M169.8,902.0 C176.3,903.9 195.1,909.2 209.0,913.1 C222.9,917.1 241.4,922.4 253.2,925.5 C264.9,928.7 269.7,929.8 279.4,932.2 C289.2,934.7 300.1,937.4 311.5,940.2 C322.9,942.9 335.8,946.0 347.9,948.9 C360.0,951.9 373.0,955.0 384.2,957.8 C395.4,960.6 405.5,963.3 415.0,965.7 C424.5,968.2 429.9,969.7 441.2,972.4 C452.5,975.2 468.9,979.3 482.7,982.3 C496.4,985.3 512.9,988.5 523.8,990.5 C534.7,992.6 544.0,993.8 548.0,994.5" stroke-width="3.5"/>
<path d="M182.9,847.2 C184.5,848.6 189.0,852.6 192.6,855.4 C196.1,858.2 199.6,861.2 204.2,864.1 C208.8,867.0 214.2,869.8 220.2,872.8 C226.3,875.7 233.8,878.7 240.6,881.6 C247.4,884.4 255.5,887.7 261.2,889.9 C267.0,892.1 266.8,892.3 275.2,895.0 C283.6,897.7 298.3,902.3 311.5,906.2 C324.6,910.0 341.9,914.8 354.0,918.2 C366.1,921.5 374.1,923.4 384.2,926.2 C394.4,928.9 405.5,931.9 414.9,934.6 C424.4,937.3 429.8,938.8 441.0,942.7 C452.2,946.5 469.9,952.8 482.3,957.6 C494.6,962.4 505.9,967.2 514.9,971.7 C523.9,976.2 531.1,980.8 536.3,984.4 C541.6,988.1 544.8,992.0 546.5,993.5" stroke-width="3.5"/>
<path d="M170.1,934.7 C170.6,936.3 172.3,940.7 173.3,944.3 C174.4,948.0 175.6,952.9 176.3,956.8 C177.0,960.7 177.5,964.7 177.8,967.7 C178.0,970.7 177.9,972.5 177.5,974.9 C177.2,977.3 176.5,979.8 175.7,982.2 C175.0,984.7 173.9,987.2 173.0,989.6 C172.0,991.9 170.6,995.1 170.1,996.2" stroke-width="3.5"/>
<path d="M170.1,936.9 C171.7,938.0 176.4,941.3 179.6,943.7 C182.7,946.0 185.9,948.5 189.0,951.0 C192.1,953.6 195.3,956.5 198.0,958.9 C200.8,961.3 203.0,963.3 205.4,965.4 C207.8,967.5 210.2,969.3 212.6,971.5 C214.9,973.6 217.6,976.0 219.6,978.3 C221.6,980.5 223.2,982.5 224.7,984.8 C226.2,987.0 227.7,990.1 228.6,991.9 C229.5,993.7 229.3,995.6 230.2,995.5 C231.1,995.4 233.5,992.9 233.9,991.1 C234.3,989.3 233.2,986.5 232.6,984.7 C232.1,982.9 231.5,981.7 230.6,980.3 C229.6,978.9 229.1,978.1 226.8,976.4 C224.4,974.6 220.6,972.3 216.3,969.8 C212.1,967.3 206.4,964.1 201.6,961.4 C196.7,958.6 191.4,955.8 187.1,953.5 C182.9,951.1 177.9,948.2 176.0,947.1" stroke-width="3.5"/>
</g><g fill="none" stroke="#000" stroke-linecap="butt">
<path d="M264.6,541.3 L302.2,525.7" stroke-width="1.1"/>
<path d="M386.8,520.7 L425.0,497.4" stroke-width="1.1"/>
<path d="M218.5,615.2 L288.9,615.2" stroke-width="1.1"/>
<path d="M184.8,659.0 L269.1,658.9" stroke-width="1.1"/>
<path d="M529.2,692.6 L585.6,648.6" stroke-width="1.1"/>
<path d="M404.1,856.2 L477.0,838.0" stroke-width="1.1"/>
<path d="M604.8,794.9 L661.2,772.9" stroke-width="1.1"/>
<path d="M593.8,936.5 L672.2,946.1" stroke-width="1.1"/>
<path d="M729.9,467.1 L907.2,467.1" stroke-width="1.1"/>
<path d="M831.6,504.8 L888.0,504.2" stroke-width="1.1"/>
<path d="M963.0,513.9 L1018.0,504.2" stroke-width="1.1"/>
<path d="M746.4,596.3 L849.5,568.9" stroke-width="1.1"/>
<path d="M964.4,557.9 L1015.2,590.8" stroke-width="1.1"/>
<path d="M765.6,648.6 L823.4,626.6" stroke-width="1.1"/>
<path d="M968.0,746.8 L1050.4,755.9" stroke-width="1.1"/>
</g>
<polyline points="181.0,19.5 181.0,19.5 181.0,28.8 181.0,24.0 181.0,19.5 181.0,21.8 181.0,23.8 181.0,19.5 181.0,31.8 181.0,19.5 181.0,24.7 181.0,28.6 181.0,27.2 181.0,32.0 181.0,36.6 181.0,42.9 181.0,26.7 181.0,36.7 181.3,37.5 181.5,27.5 181.8,20.8 182.1,42.4 182.3,27.5 182.6,27.7 182.8,39.0 183.1,32.7 183.4,30.3 183.6,35.3 183.9,22.7 184.2,33.4 184.4,28.1 184.7,23.9 185.0,32.3 185.2,36.5 185.5,26.5 185.7,32.9 186.0,28.4 186.2,35.2 186.5,35.3 186.8,28.1 187.0,37.7 187.3,35.4 187.5,36.1 187.8,38.6 188.0,32.9 188.3,38.4 188.6,40.4 188.8,28.7 189.1,40.3 189.4,33.8 189.6,35.3 189.9,30.8 190.2,38.9 190.4,33.5 190.7,41.6 190.9,33.9 191.2,37.9 191.5,36.1 191.7,39.0 192.0,34.2 192.3,34.2 192.5,42.4 192.8,43.2 193.0,41.0 193.3,47.5 193.5,35.6 193.8,48.0 194.0,35.4 194.3,52.0 194.5,45.6 194.8,45.8 195.0,54.8 195.1,51.5 195.2,52.3 195.4,36.2 195.6,44.2 195.7,38.3 195.8,41.6 196.0,42.8 196.2,58.6 196.3,42.2 196.5,46.9 196.6,52.3 196.8,61.6 196.9,65.1 197.1,59.7 197.2,48.6 197.3,57.3 197.5,62.0 197.8,46.3 198.0,60.7 198.3,53.6 198.5,58.1 198.8,59.4 199.0,59.1 199.3,56.1 199.5,56.5 199.8,50.6 200.0,55.1 200.3,49.8 200.5,55.5 200.7,57.1 200.9,61.1 201.1,56.8 201.3,52.7 201.5,60.2 201.8,56.8 202.0,64.5 202.2,60.8 202.4,61.5 202.6,68.9 202.8,63.3 203.0,63.6 203.3,63.7 203.5,65.5 203.8,61.0 204.0,66.7 204.3,71.4 204.5,67.2 204.8,69.6 205.0,72.3 205.3,71.2 205.5,70.1 205.8,71.2 206.1,72.0 206.3,66.0 206.6,69.5 206.9,68.8 207.2,68.7 207.4,73.0 207.7,71.0 208.0,75.1 208.2,75.6 208.5,71.4 208.6,75.7 208.6,75.8 208.7,80.0 208.7,74.0 208.8,75.6 208.9,80.2 208.9,79.7 209.0,83.5 209.0,80.4 209.1,79.5 209.2,89.2 209.2,81.5 209.3,81.0 209.3,83.4 209.4,84.9 209.5,84.1 209.5,89.0 209.6,95.1 209.6,85.0 209.7,89.6 209.8,93.8 209.8,97.7 209.9,100.1 209.9,88.7 210.0,95.1 210.1,100.9 210.1,89.5 210.2,98.2 210.2,92.7 210.3,102.5 210.4,105.8 210.4,100.5 210.5,93.2 210.5,94.8 210.6,100.9 210.6,108.2 210.7,99.6 210.7,107.0 210.8,103.7 210.9,102.3 210.9,109.8 211.0,104.5 211.0,106.2 211.1,113.0 211.1,109.6 211.2,114.8 211.2,111.5 211.3,106.7 211.4,111.8 211.4,119.2 211.5,115.2 211.5,122.2 211.6,107.9 211.6,114.0 211.7,121.4 211.8,120.9 211.8,119.7 211.9,122.0 211.9,126.1 212.0,123.9 212.0,122.5 212.1,123.5 212.1,125.9 212.2,121.2 212.4,127.4 212.7,127.3 212.9,130.7 213.2,126.8 213.4,120.7 213.7,129.1 213.9,134.6 214.2,132.1 214.4,132.9 214.7,130.1 214.9,130.4 215.2,135.7 215.4,126.5 215.7,138.4 215.9,138.8 216.2,140.4 216.4,127.6 216.7,127.3 216.9,140.2 217.2,132.2 217.4,130.1 217.7,132.1 218.0,137.1 218.2,128.7 218.5,134.4 218.7,137.3 219.0,138.4 219.2,127.2 219.5,140.0 219.8,134.2 220.0,134.4 220.3,136.4 220.5,132.4 220.8,141.3 221.0,131.8 221.3,136.6 221.6,131.7 221.8,138.5 222.1,143.0 222.3,143.2 222.6,132.7 222.8,140.3 223.1,144.8 223.3,134.7 223.6,138.4 223.8,143.4 224.1,144.3 224.4,139.4 224.6,141.9 224.9,142.0 225.2,137.1 225.4,141.0 225.7,139.6 225.9,140.8 226.2,138.1 226.5,135.6 226.7,136.5 227.0,141.9 227.3,133.1 227.5,132.5 227.8,130.9 228.1,138.9 228.3,139.6 228.6,131.1 228.9,130.6 229.2,129.2 229.4,132.7 229.7,130.7 230.0,133.5 230.2,126.4 230.5,132.6 230.8,127.7 231.0,131.0 231.3,130.4 231.6,131.3 231.8,125.8 232.1,126.6 232.3,125.4 232.6,119.8 232.9,123.4 233.1,128.9 233.4,128.2 233.7,114.5 233.9,123.6 234.2,117.8 234.5,115.0 234.7,115.3 235.0,125.6 235.2,128.3 235.5,121.8 235.7,119.9 236.0,122.0 236.3,126.9 236.5,125.9 236.8,116.1 237.0,118.5 237.3,128.1 237.5,122.9 237.8,125.4 238.1,127.0 238.3,125.0 238.6,126.3 238.8,123.6 239.1,119.3 239.3,118.7 239.6,129.5 239.8,116.3 240.1,125.3 240.4,127.7 240.6,119.2 240.9,116.8 241.1,121.3 241.4,120.3 241.6,122.0 241.9,121.5 242.1,127.9 242.4,117.6 242.6,128.6 242.8,118.3 243.0,130.0 243.1,123.4 243.3,129.0 243.5,120.9 243.7,127.1 243.9,130.7 244.1,130.9 244.3,133.8 244.5,126.6 244.6,130.5 244.8,133.8 245.0,127.5 245.2,138.1 245.5,133.2 245.7,131.4 246.0,131.3 246.2,137.0 246.5,129.6 246.7,132.4 247.0,133.4 247.3,133.0 247.5,139.6 247.8,138.0 248.0,142.6 248.3,140.1 248.5,134.8 248.8,135.4 249.1,133.1 249.3,135.3 249.6,140.6 249.9,142.7 250.1,137.5 250.4,138.6 250.7,144.7 250.9,146.9 251.2,136.9 251.4,137.3 251.7,145.6 252.0,143.1 252.2,142.8 252.5,145.4 252.8,146.6 253.0,139.6 253.3,148.4 253.6,148.2 253.8,143.0 254.1,143.5 254.3,141.7 254.6,144.4 254.9,141.2 255.1,143.8 255.4,146.7 255.7,143.5 255.9,145.8 256.2,141.1 256.5,145.8 256.7,139.8 257.0,140.0 257.2,143.6 257.5,139.8 257.7,137.8 258.0,137.0 258.3,142.8 258.5,135.4 258.8,135.2 259.0,143.3 259.3,141.4 259.5,136.9 259.8,134.6 260.0,142.7 260.2,142.8 260.4,142.3 260.6,141.5 260.8,142.2 260.9,149.2 261.1,143.9 261.3,138.2 261.5,138.7 261.7,147.5 262.0,150.3 262.2,149.4 262.5,151.7 262.7,146.0 263.0,147.9 263.2,147.2 263.5,149.4 263.8,148.9 264.0,156.7 264.3,149.1 264.5,150.6 264.8,157.1 265.0,154.4 265.3,154.5 265.6,161.8 265.8,161.6 266.1,154.6 266.4,154.3 266.6,158.7 266.9,160.2 267.1,158.0 267.4,161.5 267.7,163.1 267.9,165.5 268.2,158.5 268.5,164.4 268.7,157.0 269.0,157.5 269.2,158.0 269.5,159.5 269.7,170.0 269.9,164.7 270.2,167.3 270.4,167.5 270.6,164.4 270.9,162.4 271.1,165.4 271.3,177.5 271.6,169.4 271.8,171.6 272.1,169.1 272.3,176.9 272.6,176.1 272.8,171.5 273.1,173.3 273.3,172.0 273.6,174.1 273.9,174.3 274.1,174.1 274.4,177.0 274.6,177.0 274.9,170.3 275.1,172.8 275.4,171.2 275.7,173.2 275.9,175.9 276.2,175.6 276.4,175.2 276.7,172.5 276.9,177.4 277.2,176.5 277.4,174.7 277.7,178.4 278.0,173.3 278.2,174.6 278.5,179.5 278.7,174.0 279.0,174.9 279.2,178.2 279.5,180.2 279.7,179.6 280.0,175.1 280.2,177.9 280.4,182.5 280.6,180.0 280.9,179.4 281.1,178.3 281.3,181.5 281.5,188.7 281.7,180.9 281.9,186.6 282.2,191.0 282.4,189.7 282.6,186.2 282.8,190.8 282.9,186.0 283.1,190.7 283.2,189.0 283.3,196.1 283.4,196.7 283.6,196.4 283.7,193.2 283.8,198.2 284.0,200.8 284.1,195.5 284.2,197.8 284.3,195.0 284.5,195.2 284.6,201.9 284.7,196.3 284.9,202.3 285.0,198.4 285.1,204.4 285.2,206.0 285.4,208.5 285.5,204.1 285.6,204.8 285.8,205.7 285.9,209.3 286.0,210.7 286.1,205.4 286.3,208.1 286.4,206.4 286.6,208.6 286.9,213.2 287.1,215.1 287.4,215.7 287.6,209.5 287.9,212.3 288.1,216.1 288.3,214.6 288.6,214.5 288.8,217.6 289.0,218.6 289.2,216.0 289.5,218.4 289.7,217.8 289.9,218.8 290.0,220.8 290.2,220.7 290.3,223.2 290.5,222.6 290.6,222.8 290.8,225.0 290.9,224.6 291.1,224.8 291.2,228.6 291.4,226.7 291.6,227.4 291.7,229.3 291.9,228.5 292.0,231.8 293.1,228.8 294.1,228.0 294.8,234.4 295.4,236.5 296.8,239.1 298.2,240.4 298.9,243.3 299.6,244.5 300.5,251.8 300.6,254.3 300.8,257.9 300.9,263.2 301.1,265.5 301.4,269.8 301.6,272.8 301.9,276.8 302.2,279.9 302.4,284.0 302.7,286.5 303.0,290.7 303.5,294.1 304.1,297.0 304.6,300.3 305.1,303.6 306.1,308.1 307.1,311.4 308.5,314.3 309.9,317.1 310.9,317.4 311.9,318.2 312.9,316.0 314.0,315.3 315.0,312.7 316.0,309.9 317.1,307.6 318.1,305.3 319.1,300.8 320.2,299.0 321.2,296.1 322.2,294.5 323.4,292.0 324.5,291.9 325.7,289.3 326.4,286.8 327.0,282.1 328.1,279.7 329.1,277.9 330.1,274.3 331.2,272.1 331.6,267.6 332.1,264.3 332.5,260.7 333.6,258.4 334.6,256.8 335.5,252.5 336.5,248.7 337.4,245.7 338.4,245.6 339.4,243.7 340.1,239.0 340.8,234.4 341.5,238.3 342.2,243.0 343.3,243.7 344.5,244.3 345.6,243.8 346.7,244.8 347.9,245.0 349.0,245.3 350.4,240.2 351.8,241.1 353.2,241.2 354.5,240.7 355.9,238.2 356.9,235.6 358.0,231.5 359.4,230.1 360.7,227.5 362.1,224.4 363.5,222.4 364.9,220.8 366.2,219.3 367.6,218.8 369.0,219.9 370.4,218.8 371.7,217.7 373.1,215.6 374.5,213.3 375.9,214.3 377.2,216.8 378.6,217.2 380.0,215.8 381.3,217.6 382.6,219.1 383.9,220.3 385.1,220.7 386.4,221.5 387.5,221.0 388.6,222.0 389.8,222.2 390.9,223.9 392.0,222.9 393.0,221.3 394.1,221.6 395.4,219.4 396.7,218.6 398.0,218.6 399.2,220.2 400.5,222.2 401.6,223.4 402.6,224.8 403.7,228.8 405.0,230.8 406.3,237.2 407.2,238.8 408.2,241.3 409.5,243.4 410.8,247.6 411.8,251.0 412.7,251.9 413.7,257.0 414.7,259.2 415.9,259.1 417.2,259.8 418.5,261.2 419.8,263.1 421.1,263.5 422.4,264.2 423.6,265.4 424.9,268.2 425.9,265.9 427.0,269.1 428.0,268.0 429.1,269.3 430.1,268.9 431.2,270.7 432.2,268.5 433.3,269.1 434.4,270.3 435.4,270.6 436.5,270.4 437.8,271.5 439.0,272.1 440.3,274.7 441.6,277.1 442.9,278.5 444.2,278.3 445.2,280.6 446.2,281.1 447.3,279.5 448.3,279.4 449.3,282.2 450.4,283.1 451.4,282.8 452.5,284.5 453.6,283.2 454.6,283.5 455.7,282.3 457.6,288.4 458.0,293.6 458.5,294.4 458.9,297.9 459.2,300.8 459.5,305.5 459.9,309.0 460.2,312.0 462.1,318.3 463.4,318.9 464.7,320.0 466.0,318.7 467.3,317.1 468.6,313.5 469.8,311.3 471.1,310.2 472.4,305.9 473.7,304.3 475.0,302.8 476.3,302.6 477.5,301.5 478.8,301.6 480.1,298.2 481.4,297.0 482.7,294.6 483.9,290.2 485.2,288.1 486.5,285.1 487.8,284.0 489.1,280.4 490.4,280.2 491.6,276.1 492.9,275.2 494.2,273.4 495.6,272.6 496.8,271.1 497.9,271.0 499.1,269.1 500.2,266.4 501.4,266.6 502.5,267.2 503.6,266.3 504.8,267.8 505.9,266.5 507.1,268.7 508.2,268.3 509.4,270.5 510.5,268.7 511.6,270.6 512.8,272.9 513.9,272.7 515.0,273.9 516.1,273.9 517.2,273.6 518.3,274.7 519.4,276.9 520.5,277.0 521.6,275.5 522.7,276.6 523.7,277.0 524.8,277.1 525.9,274.7 527.0,275.0 528.0,277.6 529.1,275.4 530.2,277.0 531.2,276.7 532.2,277.7 533.2,275.4 534.2,278.3 535.2,278.3 536.2,276.5 537.2,278.2 538.4,276.4 539.5,279.6 540.7,278.6 541.8,280.1 543.0,280.7 544.1,278.7 545.1,282.5 546.2,281.0 547.2,282.2 548.3,284.3 549.3,283.7 550.4,285.0 551.4,283.7 552.5,285.1 553.5,285.7 554.5,286.4 555.6,284.7 556.6,284.4 557.6,285.8 558.7,286.5 559.7,287.8 560.8,287.1 561.8,287.1 562.8,287.1 563.9,288.9 564.9,289.0 565.9,287.7 567.0,288.8 568.0,288.8 569.1,290.3 570.1,290.3 571.2,290.1 572.2,291.7 573.3,292.5 574.4,292.0 575.6,294.0 576.8,292.1 577.9,292.5 579.1,295.0 580.2,295.0 581.3,296.2 582.4,297.3 583.6,296.5 584.7,298.1 585.8,298.1 587.1,300.7 588.5,303.8 589.9,308.9 591.3,310.3 592.3,311.9 593.4,313.5 594.5,315.4 595.5,314.9 596.5,317.7 597.5,316.6 598.6,318.5 599.6,319.6 601.0,320.7 602.4,321.4 603.5,321.3 604.7,319.2 605.8,320.0 607.0,321.0 608.1,319.8 609.3,320.8 610.3,319.9 611.3,320.0 612.3,320.4 613.3,321.3 614.3,318.2 615.3,318.6 616.3,318.5 617.4,318.5 618.6,317.6 619.8,320.3 620.9,317.3 622.1,318.0 623.2,318.9 624.3,317.2 625.4,316.1 626.6,315.8 627.7,315.8 628.8,315.0 629.9,315.0 631.0,314.2 632.1,312.6 633.2,314.6 634.3,314.4 635.3,312.6 636.4,310.7 637.5,312.8 638.5,310.6 639.5,310.2 640.6,309.3 641.6,312.1 642.6,312.0 643.6,311.4 644.6,312.2 645.6,313.1 646.6,313.3 647.7,314.6 648.7,315.8 649.8,313.2 650.8,316.2 651.8,316.5 652.9,314.9 653.9,317.6 654.9,317.7 656.0,317.5 657.0,315.9 658.0,317.3 659.1,318.7 660.1,318.4 661.2,317.1 662.2,319.7 663.3,319.0 664.4,318.8 665.6,319.6 666.7,319.2 667.8,320.5 668.9,319.6 670.1,323.0 671.2,320.4 672.4,321.3 673.6,321.4 674.7,322.2 675.8,322.5 676.9,324.9 678.0,323.4 679.1,326.7 680.2,325.5 681.2,327.7 682.2,326.1 683.2,325.7 684.2,328.5 685.2,326.7 686.2,329.0 687.2,329.8 688.3,328.0 689.4,328.6 690.5,329.6 691.6,330.9 692.7,331.1 693.8,330.9 694.9,332.1 696.1,333.9 697.2,332.7 698.3,336.2 699.3,336.8 700.3,335.7 701.4,337.8 702.4,339.0 703.5,340.1 704.5,339.7 705.5,341.0 706.6,342.9 708.0,344.6 709.4,348.0 710.8,352.9 712.2,356.5 713.2,358.6 714.2,358.4 715.3,359.3 716.3,359.3 717.4,362.5 718.5,362.2 719.7,363.7 720.8,364.1 721.9,362.0 723.0,363.5 724.1,363.0 725.2,363.7 726.3,361.3 727.4,363.1 728.5,362.4 729.6,361.1 730.8,359.7 731.9,361.0 733.0,358.4 734.1,359.1 735.2,358.0 736.3,358.8 737.4,358.4 738.5,359.5 739.6,359.3 740.7,358.9 741.9,357.6 743.0,358.2 744.1,357.5 745.2,357.3 746.4,358.4 747.5,359.2 748.7,357.9 749.9,359.6 751.0,358.8 752.0,357.9 753.0,358.1 754.0,358.6 755.0,357.4 756.0,359.3 757.0,357.4 758.0,358.1 759.1,359.1 760.3,359.2 761.5,359.0 762.6,359.3 763.8,359.7 764.9,359.4 766.0,359.0 767.2,360.6 768.3,358.4 769.5,358.4 770.6,359.1 771.8,359.0 772.8,361.3 773.8,359.9 774.8,361.0 775.8,360.0 776.8,358.9 777.8,361.0 778.8,361.0 779.9,358.5 781.1,360.4 782.2,359.7 783.4,358.3 784.6,358.7 785.7,359.8 786.8,357.8 787.9,358.9 788.9,358.5 790.0,358.2 791.0,357.3 792.1,359.7 793.1,359.0 794.1,359.8 795.2,359.8 796.2,359.1 797.4,361.6 798.5,361.7 799.7,364.5 800.9,364.1 802.0,362.7 803.0,363.6 804.0,363.1 805.1,365.3 806.2,362.2 807.2,364.5 808.2,361.5 809.3,362.8 810.3,364.2 811.3,367.0 812.4,367.2 813.4,367.1 814.5,367.6 815.6,369.9 816.7,367.6 817.9,370.5 819.0,369.2 820.1,371.0 821.2,372.0 822.3,370.6 823.4,369.9 824.5,370.4 825.7,370.8 826.8,370.5 827.9,372.3 829.0,373.5 830.2,373.4 831.4,376.9 832.5,377.8 833.7,378.0 834.7,379.7 835.8,379.1 836.8,382.6 837.7,380.2 838.6,380.7 839.5,381.6 840.4,383.1 841.3,386.2 842.2,382.7 843.1,385.5 844.1,388.1 845.2,390.9 846.2,390.5 847.1,388.6 848.0,387.6 848.9,390.1 849.7,391.9 850.6,392.1 851.5,390.8 852.4,388.2 853.3,387.7 854.1,387.7 855.0,389.3 855.9,391.0 856.7,388.9 857.6,391.9 858.5,390.2 859.3,393.3 860.2,391.9 861.1,393.2 862.0,390.1 862.8,391.9 863.7,393.7 864.6,388.4 865.5,393.8 866.3,391.6 867.2,394.0 868.1,389.6 869.0,390.7 869.8,391.6 870.7,390.9 871.6,390.9 872.4,392.2 873.3,387.8 874.2,391.0 875.0,389.1 875.9,391.8 876.8,391.9 877.6,388.8 878.5,388.2 879.4,391.3 880.2,391.5 881.1,390.4 882.0,391.1 882.8,391.3 883.7,388.4 884.6,387.2 885.5,385.0 886.5,386.9 887.4,385.1 888.3,387.8 889.2,387.3 890.2,389.6 891.1,388.4 892.1,386.0 893.0,387.0 893.9,387.5 894.8,387.4 895.7,389.5 896.6,387.3 897.5,385.2 898.4,384.6 899.3,386.1 900.2,383.6 901.1,386.4 902.0,389.6 902.8,390.2 903.7,388.6 904.6,389.0 905.5,388.3 906.4,389.9 907.3,389.3 908.2,390.5 909.1,392.5 910.0,391.4 910.9,387.8 911.8,388.1 912.7,391.0 913.6,392.5 914.5,390.0 915.3,391.2 916.2,387.6 917.1,387.2 918.0,391.4 918.9,390.5 919.8,387.8 920.7,389.8 921.5,388.5 922.4,389.1 923.3,387.7 924.2,388.1 925.1,389.7 926.0,386.6 926.9,388.4 927.8,389.8 928.7,384.2 929.6,385.5 930.5,386.1 931.4,387.4 932.2,386.6 933.1,389.4 934.0,384.8 934.8,385.4 935.7,383.9 936.6,384.4 937.4,386.9 938.3,383.5 939.2,388.9 940.0,387.9 940.9,384.0 941.8,388.3 942.6,384.4 943.5,386.8 944.4,385.1 945.2,384.9 946.1,387.2 947.0,389.7 948.0,385.3 948.9,386.5 949.9,388.6 950.8,391.8 951.7,387.6 952.7,389.9 953.6,387.2 954.6,386.0 955.5,387.2 956.4,384.1 957.3,386.5 958.2,383.9 959.1,387.2 960.0,390.4 960.9,385.2" fill="none" stroke="#000" stroke-width="1.15" stroke-linejoin="round"/>
<text transform="translate(280.37,516.00) scale(1.220,1)" font-size="18.2">2</text>
<text class="s" transform="translate(292.19,510.70) scale(1.300,1)" font-size="10.0">3</text>
<text transform="translate(298.07,516.00) scale(1.220,1)" font-size="18.2">S</text>
<text class="s" transform="translate(309.49,521.00) scale(1.200,1)" font-size="12.7">0</text>
<line x1="318.40" y1="510.30" x2="328.60" y2="510.30" stroke="#000" stroke-width="1.25"/>
<text transform="translate(330.95,516.00) scale(1.220,1)" font-size="18.2">3</text>
<text class="s" transform="translate(342.09,510.70) scale(1.300,1)" font-size="10.0">3</text>
<text transform="translate(349.05,516.00) scale(1.220,1)" font-size="18.2">P</text>
<line x1="363.40" y1="517.90" x2="369.00" y2="517.90" stroke="#000" stroke-width="1.15"/>
<text class="s" transform="translate(368.39,521.00) scale(1.200,1)" font-size="13.3">1</text>
<text transform="translate(408.27,491.00) scale(1.220,1)" font-size="18.2">2</text>
<text class="s" transform="translate(419.97,485.70) scale(1.300,1)" font-size="10.0">1</text>
<text transform="translate(425.97,491.00) scale(1.220,1)" font-size="18.2">S</text>
<text class="s" transform="translate(437.39,496.00) scale(1.200,1)" font-size="12.7">0</text>
<line x1="446.30" y1="485.30" x2="456.50" y2="485.30" stroke="#000" stroke-width="1.25"/>
<text transform="translate(458.85,491.00) scale(1.220,1)" font-size="18.2">3</text>
<text class="s" transform="translate(469.87,485.70) scale(1.300,1)" font-size="10.0">1</text>
<text transform="translate(476.95,491.00) scale(1.220,1)" font-size="18.2">P</text>
<text class="s" transform="translate(488.59,496.00) scale(1.200,1)" font-size="12.7">0</text>
<text transform="translate(266.17,600.00) scale(1.220,1)" font-size="18.2">2</text>
<text class="s" transform="translate(277.87,594.70) scale(1.300,1)" font-size="10.0">1</text>
<text transform="translate(283.87,600.00) scale(1.220,1)" font-size="18.2">S</text>
<text class="s" transform="translate(295.29,605.00) scale(1.200,1)" font-size="12.7">0</text>
<line x1="304.20" y1="594.30" x2="314.40" y2="594.30" stroke="#000" stroke-width="1.25"/>
<text transform="translate(316.81,600.00) scale(1.220,1)" font-size="18.2">4</text>
<text class="s" transform="translate(327.77,594.70) scale(1.300,1)" font-size="10.0">1</text>
<text transform="translate(334.71,600.00) scale(1.220,1)" font-size="18.2">F</text>
<line x1="349.20" y1="601.90" x2="354.80" y2="601.90" stroke="#000" stroke-width="1.15"/>
<text class="s" transform="translate(354.19,605.00) scale(1.200,1)" font-size="13.3">1</text>
<text transform="translate(259.67,652.80) scale(1.220,1)" font-size="18.2">2</text>
<text class="s" transform="translate(271.37,647.50) scale(1.300,1)" font-size="10.0">1</text>
<text transform="translate(277.37,652.80) scale(1.220,1)" font-size="18.2">S</text>
<text class="s" transform="translate(288.79,657.80) scale(1.200,1)" font-size="12.7">0</text>
<line x1="297.70" y1="647.10" x2="307.90" y2="647.10" stroke="#000" stroke-width="1.25"/>
<text transform="translate(310.31,652.80) scale(1.220,1)" font-size="18.2">4</text>
<text class="s" transform="translate(321.27,647.50) scale(1.300,1)" font-size="10.0">1</text>
<text transform="translate(328.21,652.80) scale(1.220,1)" font-size="18.2">F</text>
<text class="s" transform="translate(339.99,657.80) scale(1.200,1)" font-size="12.7">0</text>
<text transform="translate(482.85,714.70) scale(1.220,1)" font-size="18.2">3</text>
<text class="s" transform="translate(494.89,709.40) scale(1.300,1)" font-size="10.0">3</text>
<text transform="translate(500.77,714.70) scale(1.220,1)" font-size="18.2">S</text>
<text class="s" transform="translate(512.19,719.70) scale(1.200,1)" font-size="12.7">0</text>
<line x1="521.10" y1="709.00" x2="531.30" y2="709.00" stroke="#000" stroke-width="1.25"/>
<text transform="translate(533.54,714.70) scale(1.220,1)" font-size="18.2">5</text>
<text class="s" transform="translate(544.79,709.40) scale(1.300,1)" font-size="10.0">3</text>
<text transform="translate(551.75,714.70) scale(1.220,1)" font-size="18.2">P</text>
<text class="s" transform="translate(563.39,719.70) scale(1.200,1)" font-size="12.7">0</text>
<text transform="translate(440.47,828.90) scale(1.220,1)" font-size="18.2">2</text>
<text class="s" transform="translate(452.17,823.60) scale(1.300,1)" font-size="10.0">1</text>
<text transform="translate(458.17,828.90) scale(1.220,1)" font-size="18.2">S</text>
<text class="s" transform="translate(469.59,833.90) scale(1.200,1)" font-size="12.7">0</text>
<line x1="478.50" y1="823.20" x2="488.70" y2="823.20" stroke="#000" stroke-width="1.25"/>
<text transform="translate(491.05,828.90) scale(1.220,1)" font-size="18.2">3</text>
<text class="s" transform="translate(502.07,823.60) scale(1.300,1)" font-size="10.0">1</text>
<text transform="translate(509.15,828.90) scale(1.220,1)" font-size="18.2">P</text>
<line x1="523.50" y1="830.80" x2="529.10" y2="830.80" stroke="#000" stroke-width="1.15"/>
<text class="s" transform="translate(528.49,833.90) scale(1.200,1)" font-size="13.3">1</text>
<text transform="translate(513.85,803.40) scale(1.220,1)" font-size="18.2">3</text>
<text class="s" transform="translate(525.89,798.10) scale(1.300,1)" font-size="10.0">3</text>
<text transform="translate(531.77,803.40) scale(1.220,1)" font-size="18.2">S</text>
<text class="s" transform="translate(543.19,808.40) scale(1.200,1)" font-size="12.7">0</text>
<line x1="552.10" y1="797.70" x2="562.30" y2="797.70" stroke="#000" stroke-width="1.25"/>
<text transform="translate(564.54,803.40) scale(1.220,1)" font-size="18.2">5</text>
<text class="s" transform="translate(575.79,798.10) scale(1.300,1)" font-size="10.0">3</text>
<text transform="translate(582.75,803.40) scale(1.220,1)" font-size="18.2">P</text>
<line x1="597.10" y1="805.30" x2="602.70" y2="805.30" stroke="#000" stroke-width="1.15"/>
<text class="s" transform="translate(602.09,808.40) scale(1.200,1)" font-size="13.3">1</text>
<text transform="translate(541.77,929.00) scale(1.220,1)" font-size="18.2">2</text>
<text class="s" transform="translate(553.59,923.70) scale(1.300,1)" font-size="10.0">3</text>
<text transform="translate(559.65,929.00) scale(1.220,1)" font-size="18.2">P</text>
<text class="s" transform="translate(570.89,934.00) scale(1.200,1)" font-size="12.7">0</text>
<line x1="579.80" y1="923.30" x2="590.00" y2="923.30" stroke="#000" stroke-width="1.25"/>
<text transform="translate(592.35,929.00) scale(1.220,1)" font-size="18.2">3</text>
<text class="s" transform="translate(603.49,923.70) scale(1.300,1)" font-size="10.0">3</text>
<text transform="translate(609.71,929.00) scale(1.220,1)" font-size="18.2">D</text>
<line x1="624.80" y1="930.90" x2="630.40" y2="930.90" stroke="#000" stroke-width="1.15"/>
<text class="s" transform="translate(629.79,934.00) scale(1.200,1)" font-size="13.3">1</text>
<text transform="translate(872.25,459.80) scale(1.220,1)" font-size="18.2">3</text>
<text class="s" transform="translate(884.29,454.50) scale(1.300,1)" font-size="10.0">3</text>
<text transform="translate(890.17,459.80) scale(1.220,1)" font-size="18.2">S</text>
<text class="s" transform="translate(901.59,464.80) scale(1.200,1)" font-size="12.7">0</text>
<line x1="910.50" y1="454.10" x2="920.70" y2="454.10" stroke="#000" stroke-width="1.25"/>
<text transform="translate(923.11,459.80) scale(1.220,1)" font-size="18.2">4</text>
<text class="s" transform="translate(934.19,454.50) scale(1.300,1)" font-size="10.0">3</text>
<text transform="translate(941.01,459.80) scale(1.220,1)" font-size="18.2">F</text>
<text class="s" transform="translate(952.79,464.80) scale(1.200,1)" font-size="12.7">0</text>
<text transform="translate(848.85,497.80) scale(1.220,1)" font-size="18.2">3</text>
<text class="s" transform="translate(860.77,492.50) scale(1.300,1)" font-size="10.0">1</text>
<text transform="translate(866.77,497.80) scale(1.220,1)" font-size="18.2">S</text>
<text class="s" transform="translate(878.19,502.80) scale(1.200,1)" font-size="12.7">0</text>
<line x1="887.10" y1="492.10" x2="897.30" y2="492.10" stroke="#000" stroke-width="1.25"/>
<text transform="translate(899.54,497.80) scale(1.220,1)" font-size="18.2">5</text>
<text class="s" transform="translate(910.67,492.50) scale(1.300,1)" font-size="10.0">1</text>
<text transform="translate(917.61,497.80) scale(1.220,1)" font-size="18.2">F</text>
<line x1="932.10" y1="499.70" x2="937.70" y2="499.70" stroke="#000" stroke-width="1.15"/>
<text class="s" transform="translate(937.09,502.80) scale(1.200,1)" font-size="13.3">1</text>
<text transform="translate(989.65,495.80) scale(1.220,1)" font-size="18.2">3</text>
<text class="s" transform="translate(1001.57,490.50) scale(1.300,1)" font-size="10.0">1</text>
<text transform="translate(1007.57,495.80) scale(1.220,1)" font-size="18.2">S</text>
<text class="s" transform="translate(1018.99,500.80) scale(1.200,1)" font-size="12.7">0</text>
<line x1="1027.90" y1="490.10" x2="1038.10" y2="490.10" stroke="#000" stroke-width="1.25"/>
<text transform="translate(1040.51,495.80) scale(1.220,1)" font-size="18.2">4</text>
<text class="s" transform="translate(1051.47,490.50) scale(1.300,1)" font-size="10.0">1</text>
<text transform="translate(1058.55,495.80) scale(1.220,1)" font-size="18.2">P</text>
<text class="s" transform="translate(1070.19,500.80) scale(1.200,1)" font-size="12.7">0</text>
<text transform="translate(816.45,564.70) scale(1.220,1)" font-size="18.2">3</text>
<text class="s" transform="translate(828.37,559.40) scale(1.300,1)" font-size="10.0">1</text>
<text transform="translate(834.37,564.70) scale(1.220,1)" font-size="18.2">S</text>
<text class="s" transform="translate(845.79,569.70) scale(1.200,1)" font-size="12.7">0</text>
<line x1="854.70" y1="559.00" x2="864.90" y2="559.00" stroke="#000" stroke-width="1.25"/>
<text transform="translate(867.14,564.70) scale(1.220,1)" font-size="18.2">5</text>
<text class="s" transform="translate(878.27,559.40) scale(1.300,1)" font-size="10.0">1</text>
<text transform="translate(885.21,564.70) scale(1.220,1)" font-size="18.2">F</text>
<text class="s" transform="translate(896.99,569.70) scale(1.200,1)" font-size="12.7">0</text>
<text transform="translate(948.75,551.10) scale(1.220,1)" font-size="18.2">3</text>
<text class="s" transform="translate(960.67,545.80) scale(1.300,1)" font-size="10.0">1</text>
<text transform="translate(966.67,551.10) scale(1.220,1)" font-size="18.2">S</text>
<text class="s" transform="translate(978.09,556.10) scale(1.200,1)" font-size="12.7">0</text>
<line x1="987.00" y1="545.40" x2="997.20" y2="545.40" stroke="#000" stroke-width="1.25"/>
<text transform="translate(999.61,551.10) scale(1.220,1)" font-size="18.2">4</text>
<text class="s" transform="translate(1010.57,545.80) scale(1.300,1)" font-size="10.0">1</text>
<text transform="translate(1017.65,551.10) scale(1.220,1)" font-size="18.2">P</text>
<line x1="1032.00" y1="553.00" x2="1037.60" y2="553.00" stroke="#000" stroke-width="1.15"/>
<text class="s" transform="translate(1036.99,556.10) scale(1.200,1)" font-size="13.3">1</text>
<text transform="translate(784.55,619.40) scale(1.220,1)" font-size="18.2">3</text>
<text class="s" transform="translate(796.59,614.10) scale(1.300,1)" font-size="10.0">3</text>
<text transform="translate(802.47,619.40) scale(1.220,1)" font-size="18.2">S</text>
<text class="s" transform="translate(813.89,624.40) scale(1.200,1)" font-size="12.7">0</text>
<line x1="822.80" y1="613.70" x2="833.00" y2="613.70" stroke="#000" stroke-width="1.25"/>
<text transform="translate(835.41,619.40) scale(1.220,1)" font-size="18.2">4</text>
<text class="s" transform="translate(846.49,614.10) scale(1.300,1)" font-size="10.0">3</text>
<text transform="translate(853.31,619.40) scale(1.220,1)" font-size="18.2">F</text>
<line x1="867.80" y1="621.30" x2="873.40" y2="621.30" stroke="#000" stroke-width="1.15"/>
<text class="s" transform="translate(872.79,624.40) scale(1.200,1)" font-size="13.3">1</text>
<text transform="translate(917.85,739.30) scale(1.220,1)" font-size="18.2">3</text>
<text class="s" transform="translate(929.89,734.00) scale(1.300,1)" font-size="10.0">3</text>
<text transform="translate(935.77,739.30) scale(1.220,1)" font-size="18.2">S</text>
<text class="s" transform="translate(947.19,744.30) scale(1.200,1)" font-size="12.7">0</text>
<line x1="956.10" y1="733.60" x2="966.30" y2="733.60" stroke="#000" stroke-width="1.25"/>
<text transform="translate(968.71,739.30) scale(1.220,1)" font-size="18.2">4</text>
<text class="s" transform="translate(979.79,734.00) scale(1.300,1)" font-size="10.0">3</text>
<text transform="translate(986.75,739.30) scale(1.220,1)" font-size="18.2">P</text>
<text class="s" transform="translate(998.39,744.30) scale(1.200,1)" font-size="12.7">0</text>
<text class="b" transform="translate(74.88,30.50) scale(1.090,1)" font-size="31.7">1</text>
<text class="b" transform="translate(94.16,30.50) scale(1.090,1)" font-size="31.7">0</text>
<line x1="114.90" y1="15.40" x2="124.80" y2="15.40" stroke="#000" stroke-width="1.3"/>
<text transform="translate(127.70,21.40) scale(1.250,1)" font-size="19.3">2</text>
<text transform="translate(138.04,21.40) scale(1.250,1)" font-size="19.3">5</text>
<text class="b" transform="translate(34.61,125.10) scale(1.090,1)" font-size="31.7">8</text>
<text class="b" transform="translate(53.34,128.29) scale(1.000,1)" font-size="35.6">×</text>
<text class="b" transform="translate(75.28,125.10) scale(1.090,1)" font-size="31.7">1</text>
<text class="b" transform="translate(95.21,125.10) scale(1.090,1)" font-size="31.7">0</text>
<line x1="115.70" y1="109.40" x2="125.30" y2="109.40" stroke="#000" stroke-width="1.3"/>
<text transform="translate(128.00,115.80) scale(1.250,1)" font-size="19.3">2</text>
<text transform="translate(138.86,115.80) scale(1.250,1)" font-size="19.3">6</text>
<text class="b" transform="translate(34.38,219.80) scale(1.090,1)" font-size="31.7">6</text>
<text class="b" transform="translate(53.34,222.99) scale(1.000,1)" font-size="35.6">×</text>
<text class="b" transform="translate(75.28,219.80) scale(1.090,1)" font-size="31.7">1</text>
<text class="b" transform="translate(95.21,219.80) scale(1.090,1)" font-size="31.7">0</text>
<line x1="115.70" y1="204.10" x2="125.30" y2="204.10" stroke="#000" stroke-width="1.3"/>
<text transform="translate(128.00,210.50) scale(1.250,1)" font-size="19.3">2</text>
<text transform="translate(138.86,210.50) scale(1.250,1)" font-size="19.3">6</text>
<text class="b" transform="translate(34.54,314.40) scale(1.090,1)" font-size="31.7">4</text>
<text class="b" transform="translate(53.34,317.59) scale(1.000,1)" font-size="35.6">×</text>
<text class="b" transform="translate(75.28,314.40) scale(1.090,1)" font-size="31.7">1</text>
<text class="b" transform="translate(95.21,314.40) scale(1.090,1)" font-size="31.7">0</text>
<line x1="115.70" y1="298.70" x2="125.30" y2="298.70" stroke="#000" stroke-width="1.3"/>
<text transform="translate(128.00,305.10) scale(1.250,1)" font-size="19.3">2</text>
<text transform="translate(138.86,305.10) scale(1.250,1)" font-size="19.3">6</text>
<text class="b" transform="translate(34.81,409.06) scale(1.090,1)" font-size="31.7">2</text>
<text class="b" transform="translate(53.34,412.25) scale(1.000,1)" font-size="35.6">×</text>
<text class="b" transform="translate(75.28,409.06) scale(1.090,1)" font-size="31.7">1</text>
<text class="b" transform="translate(95.21,409.06) scale(1.090,1)" font-size="31.7">0</text>
<line x1="115.70" y1="393.36" x2="125.30" y2="393.36" stroke="#000" stroke-width="1.3"/>
<text transform="translate(128.00,399.76) scale(1.250,1)" font-size="19.3">2</text>
<text transform="translate(138.86,399.76) scale(1.250,1)" font-size="19.3">6</text>
<text class="b" transform="translate(134.01,1008.00) scale(1.090,1)" font-size="31.7">0</text>
<text class="b" transform="translate(95.41,897.54) scale(1.090,1)" font-size="31.7">2</text>
<text class="b" transform="translate(114.61,897.54) scale(1.090,1)" font-size="31.7">0</text>
<text class="b" transform="translate(134.01,897.54) scale(1.090,1)" font-size="31.7">0</text>
<text class="b" transform="translate(95.14,787.08) scale(1.090,1)" font-size="31.7">4</text>
<text class="b" transform="translate(114.61,787.08) scale(1.090,1)" font-size="31.7">0</text>
<text class="b" transform="translate(134.01,787.08) scale(1.090,1)" font-size="31.7">0</text>
<text class="b" transform="translate(94.98,676.62) scale(1.090,1)" font-size="31.7">6</text>
<text class="b" transform="translate(114.61,676.62) scale(1.090,1)" font-size="31.7">0</text>
<text class="b" transform="translate(134.01,676.62) scale(1.090,1)" font-size="31.7">0</text>
<text class="b" transform="translate(95.21,566.16) scale(1.090,1)" font-size="31.7">8</text>
<text class="b" transform="translate(114.61,566.16) scale(1.090,1)" font-size="31.7">0</text>
<text class="b" transform="translate(134.01,566.16) scale(1.090,1)" font-size="31.7">0</text>
<text class="b" transform="translate(75.33,455.70) scale(1.090,1)" font-size="31.7">1</text>
<text class="b" transform="translate(95.21,455.70) scale(1.090,1)" font-size="31.7">0</text>
<text class="b" transform="translate(114.61,455.70) scale(1.090,1)" font-size="31.7">0</text>
<text class="b" transform="translate(134.01,455.70) scale(1.090,1)" font-size="31.7">0</text>
<text class="b" transform="translate(245.49,1034.40) scale(1.090,1)" font-size="31.7">4</text>
<text class="b" transform="translate(264.96,1034.40) scale(1.090,1)" font-size="31.7">0</text>
<text class="b" transform="translate(284.36,1034.40) scale(1.090,1)" font-size="31.7">0</text>
<text class="b" transform="translate(303.76,1034.40) scale(1.090,1)" font-size="31.7">0</text>
<text class="b" transform="translate(525.83,1033.60) scale(1.090,1)" font-size="31.7">6</text>
<text class="b" transform="translate(545.46,1033.60) scale(1.090,1)" font-size="31.7">0</text>
<text class="b" transform="translate(564.86,1033.60) scale(1.090,1)" font-size="31.7">0</text>
<text class="b" transform="translate(584.26,1033.60) scale(1.090,1)" font-size="31.7">0</text>
<text class="b" transform="translate(804.76,1031.80) scale(1.090,1)" font-size="31.7">8</text>
<text class="b" transform="translate(824.16,1031.80) scale(1.090,1)" font-size="31.7">0</text>
<text class="b" transform="translate(843.56,1031.80) scale(1.090,1)" font-size="31.7">0</text>
<text class="b" transform="translate(862.96,1031.80) scale(1.090,1)" font-size="31.7">0</text>
<text class="b" transform="translate(1099.48,1031.10) scale(1.090,1)" font-size="31.7">1</text>
<text class="b" transform="translate(1117.66,1031.10) scale(1.090,1)" font-size="31.7">0</text>
<text transform="translate(1136.46,1021.60) scale(1.200,1)" font-size="19.0">4</text>
<text class="b" transform="translate(518.24,1077.30) scale(0.720,1)" font-size="31.7">W</text>
<text class="b" transform="translate(541.10,1077.30) scale(1.220,1)" font-size="31.7">a</text>
<text class="b" transform="translate(559.88,1077.30) scale(1.100,1)" font-size="31.7">v</text>
<text class="b" transform="translate(577.23,1077.30) scale(1.220,1)" font-size="31.7">e</text>
<text class="b" transform="translate(593.88,1077.30) scale(1.300,1)" font-size="31.7">l</text>
<text class="b" transform="translate(606.83,1077.30) scale(1.220,1)" font-size="31.7">e</text>
<text class="b" transform="translate(624.88,1077.30) scale(1.220,1)" font-size="31.7">n</text>
<text class="b" transform="translate(644.90,1077.30) scale(1.120,1)" font-size="31.7">g</text>
<text class="b" transform="translate(665.65,1077.30) scale(1.400,1)" font-size="31.7">t</text>
<text class="b" transform="translate(678.66,1077.30) scale(1.200,1)" font-size="31.7">h</text>
<text class="b" transform="translate(699.58,1077.30) scale(1.300,1)" font-size="31.7">s</text>
<text class="b" transform="translate(732.74,1077.30) scale(1.000,1)" font-size="31.7">(</text>
<text class="b" transform="translate(744.74,1077.30) scale(0.850,1)" font-size="31.7">Å</text>
<text class="b" transform="translate(765.31,1077.30) scale(1.000,1)" font-size="31.7">)</text>
<text class="b" transform="translate(28.90,253.51) rotate(-90) scale(1.100,1)" font-size="32.5">F</text>
<text class="b" transform="translate(28.90,234.17) rotate(-90) scale(1.100,1)" font-size="32.5">l</text>
<text class="b" transform="translate(28.90,222.37) rotate(-90) scale(1.100,1)" font-size="32.5">u</text>
<text class="b" transform="translate(28.90,202.38) rotate(-90) scale(1.100,1)" font-size="32.5">x</text>
<text class="b" transform="translate(51.00,935.50) rotate(-90) scale(0.900,1)" font-size="32.5">M</text>
<text class="b" transform="translate(51.00,909.57) rotate(-90) scale(1.200,1)" font-size="32.5">a</text>
<text class="b" transform="translate(51.00,892.34) rotate(-90) scale(1.120,1)" font-size="32.5">g</text>
<text class="b" transform="translate(51.00,872.90) rotate(-90) scale(1.200,1)" font-size="32.5">n</text>
<text class="b" transform="translate(51.00,851.54) rotate(-90) scale(1.200,1)" font-size="32.5">e</text>
<text class="b" transform="translate(51.00,832.98) rotate(-90) scale(1.350,1)" font-size="32.5">t</text>
<text class="b" transform="translate(51.00,820.71) rotate(-90) scale(1.300,1)" font-size="32.5">i</text>
<text class="b" transform="translate(51.00,808.80) rotate(-90) scale(1.200,1)" font-size="32.5">c</text>
<text class="b" transform="translate(51.00,775.56) rotate(-90) scale(1.050,1)" font-size="32.5">F</text>
<text class="b" transform="translate(51.00,757.51) rotate(-90) scale(1.300,1)" font-size="32.5">i</text>
<text class="b" transform="translate(51.00,745.74) rotate(-90) scale(1.200,1)" font-size="32.5">e</text>
<text class="b" transform="translate(51.00,729.07) rotate(-90) scale(1.300,1)" font-size="32.5">l</text>
<text class="b" transform="translate(51.00,716.67) rotate(-90) scale(1.100,1)" font-size="32.5">d</text>
<text class="b" transform="translate(51.00,680.60) rotate(-90) scale(1.000,1)" font-size="32.5">(</text>
<text class="b" transform="translate(51.00,670.30) rotate(-90) scale(0.900,1)" font-size="32.5">M</text>
<text class="b" transform="translate(51.00,644.64) rotate(-90) scale(1.200,1)" font-size="32.5">e</text>
<text class="b" transform="translate(51.00,627.84) rotate(-90) scale(1.120,1)" font-size="32.5">g</text>
<text class="b" transform="translate(51.00,607.67) rotate(-90) scale(1.200,1)" font-size="32.5">a</text>
<text class="b" transform="translate(51.00,591.70) rotate(-90) scale(0.950,1)" font-size="32.5">G</text>
<text class="b" transform="translate(51.00,567.27) rotate(-90) scale(1.200,1)" font-size="32.5">a</text>
<text class="b" transform="translate(51.00,547.47) rotate(-90) scale(1.150,1)" font-size="32.5">u</text>
<text class="b" transform="translate(51.00,527.92) rotate(-90) scale(1.300,1)" font-size="32.5">s</text>
<text class="b" transform="translate(51.00,511.02) rotate(-90) scale(1.300,1)" font-size="32.5">s</text>
<text class="b" transform="translate(51.00,493.02) rotate(-90) scale(1.000,1)" font-size="32.5">)</text>
</svg></body></html>
